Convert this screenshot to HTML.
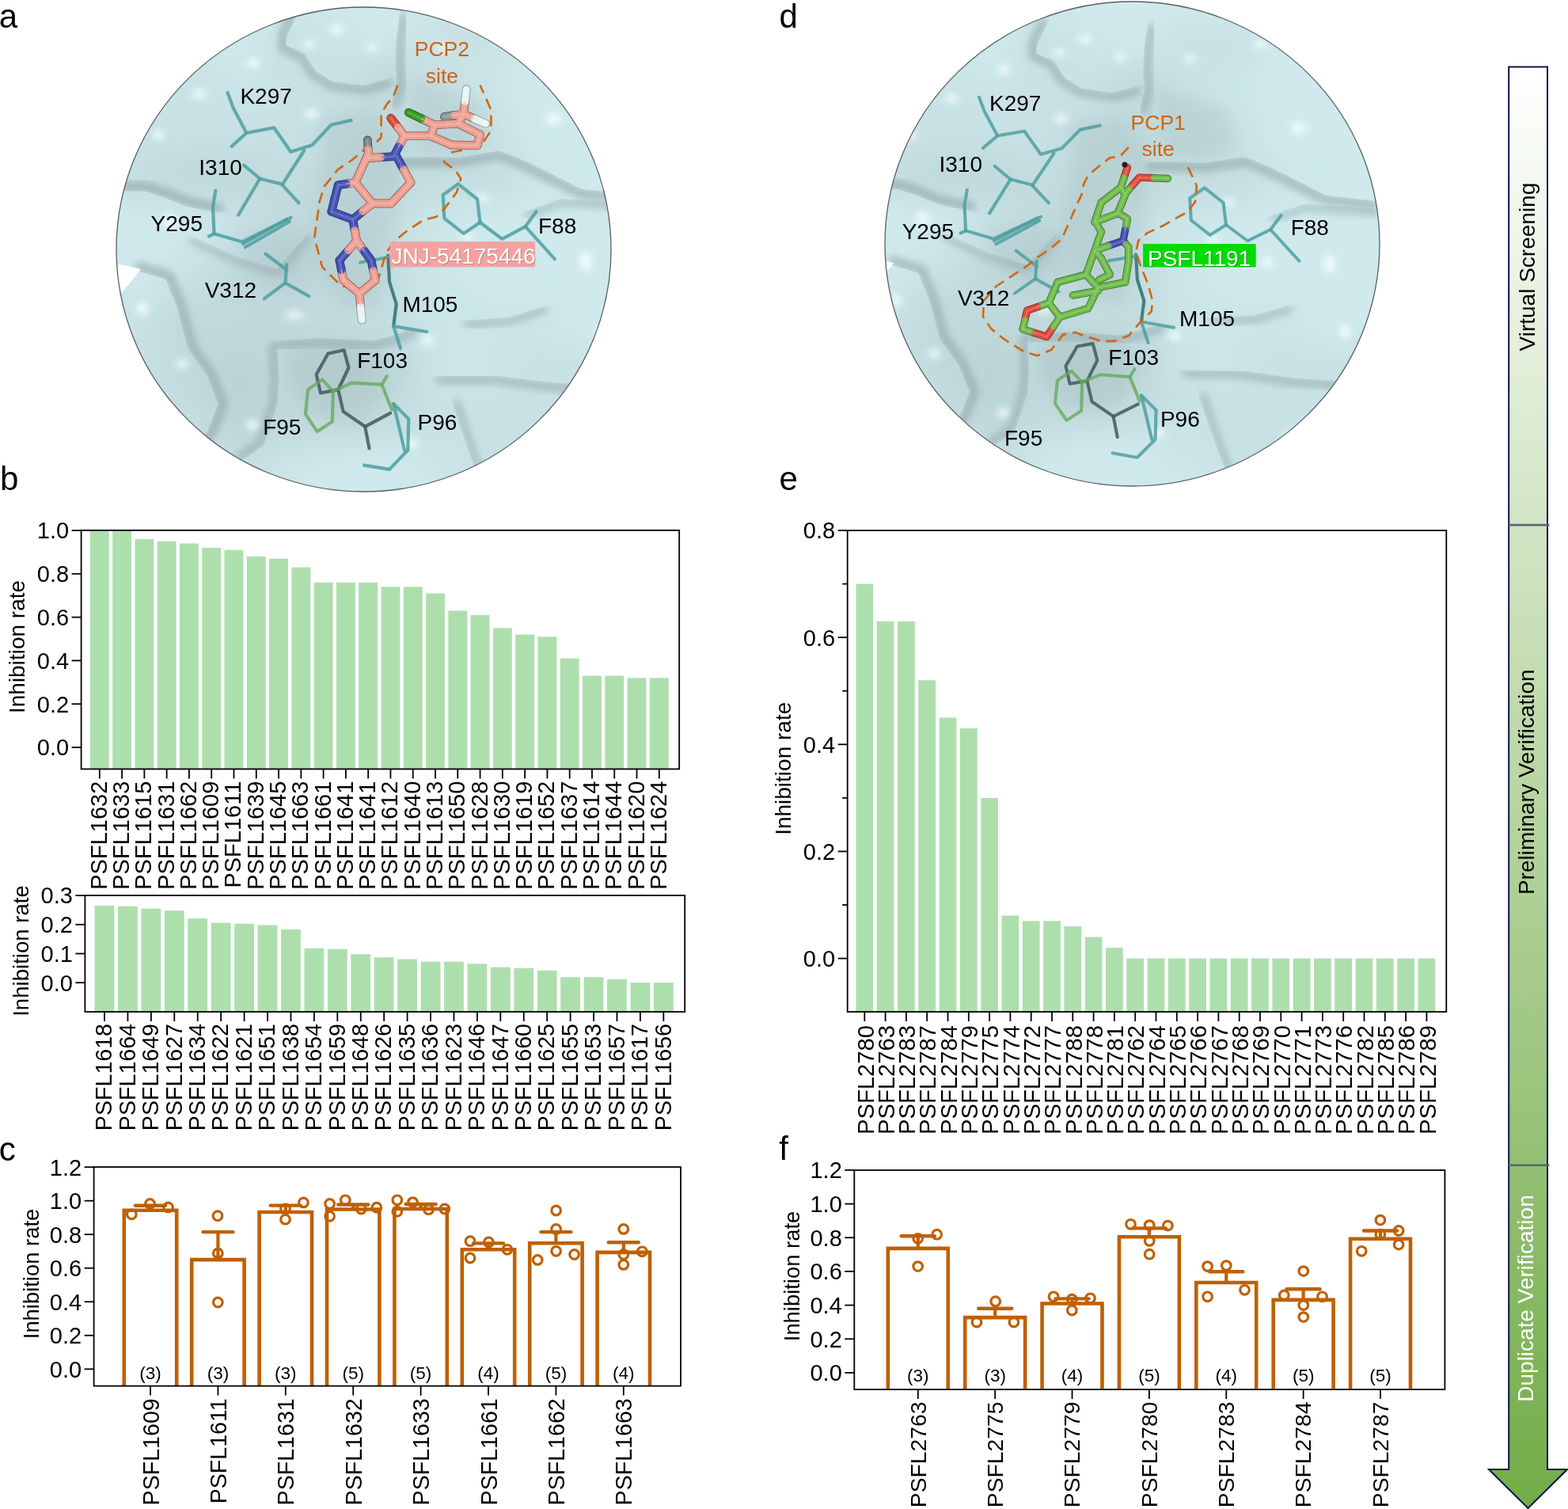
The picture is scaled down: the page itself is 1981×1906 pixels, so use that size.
<!DOCTYPE html>
<html><head><meta charset="utf-8"><title>Figure</title>
<style>html,body{margin:0;padding:0;background:#fff;width:1981px;height:1906px;overflow:hidden}svg{display:block}text{font-family:'Liberation Sans', Arial, Helvetica, sans-serif}</style>
</head><body>
<svg xmlns="http://www.w3.org/2000/svg" width="1981" height="1906" viewBox="0 0 1981 1906" font-family="'Liberation Sans', Arial, Helvetica, sans-serif">
<rect width="1981" height="1906" fill="#fff"/>
<defs>
<clipPath id="clipA"><ellipse cx="459.5" cy="315.0" rx="312.5" ry="306.0"/></clipPath>
<clipPath id="clipD"><ellipse cx="1430.5" cy="308.0" rx="312.5" ry="306.0"/></clipPath>
<filter id="bl22" x="-10%" y="-10%" width="120%" height="120%"><feGaussianBlur stdDeviation="22"/></filter>
<filter id="bl10" x="-30%" y="-30%" width="160%" height="160%"><feGaussianBlur stdDeviation="10"/></filter>
<filter id="bl5" x="-30%" y="-30%" width="160%" height="160%"><feGaussianBlur stdDeviation="5"/></filter>
<filter id="bl2" x="-30%" y="-30%" width="160%" height="160%"><feGaussianBlur stdDeviation="2"/></filter>
<g id="surf">
<rect x="60" y="-100" width="850" height="830" fill="#cfe9ec"/>
<g filter="url(#bl22)">
<rect x="84.5" y="-52.2" width="63.0" height="61.7" fill="#cfe9ec"/>
<rect x="147.0" y="-52.2" width="63.0" height="61.7" fill="#cfe9ec"/>
<rect x="209.5" y="-52.2" width="63.0" height="61.7" fill="#cfe9ec"/>
<rect x="272.0" y="-52.2" width="63.0" height="61.7" fill="#cfe9ec"/>
<rect x="334.5" y="-52.2" width="63.0" height="61.7" fill="#cfe9ec"/>
<rect x="397.0" y="-52.2" width="63.0" height="61.7" fill="#cfe9ec"/>
<rect x="459.5" y="-52.2" width="63.0" height="61.7" fill="#cfe9ec"/>
<rect x="522.0" y="-52.2" width="63.0" height="61.7" fill="#cfe9ec"/>
<rect x="584.5" y="-52.2" width="63.0" height="61.7" fill="#cfe9ec"/>
<rect x="647.0" y="-52.2" width="63.0" height="61.7" fill="#cfe9ec"/>
<rect x="709.5" y="-52.2" width="63.0" height="61.7" fill="#cfe9ec"/>
<rect x="772.0" y="-52.2" width="63.0" height="61.7" fill="#cfe9ec"/>
<rect x="84.5" y="9.0" width="63.0" height="61.7" fill="#cfe9ec"/>
<rect x="147.0" y="9.0" width="63.0" height="61.7" fill="#cfe9ec"/>
<rect x="209.5" y="9.0" width="63.0" height="61.7" fill="#cfe9ec"/>
<rect x="272.0" y="9.0" width="63.0" height="61.7" fill="#cfe9ec"/>
<rect x="334.5" y="9.0" width="63.0" height="61.7" fill="#c7e1e4"/>
<rect x="397.0" y="9.0" width="63.0" height="61.7" fill="#cbe5e8"/>
<rect x="459.5" y="9.0" width="63.0" height="61.7" fill="#cfe9ec"/>
<rect x="522.0" y="9.0" width="63.0" height="61.7" fill="#c7e1e4"/>
<rect x="584.5" y="9.0" width="63.0" height="61.7" fill="#c7e1e4"/>
<rect x="647.0" y="9.0" width="63.0" height="61.7" fill="#cfe9ec"/>
<rect x="709.5" y="9.0" width="63.0" height="61.7" fill="#cfe9ec"/>
<rect x="772.0" y="9.0" width="63.0" height="61.7" fill="#cfe9ec"/>
<rect x="84.5" y="70.2" width="63.0" height="61.7" fill="#cfe9ec"/>
<rect x="147.0" y="70.2" width="63.0" height="61.7" fill="#cbe5e8"/>
<rect x="209.5" y="70.2" width="63.0" height="61.7" fill="#c7e1e4"/>
<rect x="272.0" y="70.2" width="63.0" height="61.7" fill="#cbe5e8"/>
<rect x="334.5" y="70.2" width="63.0" height="61.7" fill="#c7e1e4"/>
<rect x="397.0" y="70.2" width="63.0" height="61.7" fill="#c7e1e4"/>
<rect x="459.5" y="70.2" width="63.0" height="61.7" fill="#bfd9dc"/>
<rect x="522.0" y="70.2" width="63.0" height="61.7" fill="#c7e1e4"/>
<rect x="584.5" y="70.2" width="63.0" height="61.7" fill="#cbe5e8"/>
<rect x="647.0" y="70.2" width="63.0" height="61.7" fill="#cfe9ec"/>
<rect x="709.5" y="70.2" width="63.0" height="61.7" fill="#cfe9ec"/>
<rect x="772.0" y="70.2" width="63.0" height="61.7" fill="#cfe9ec"/>
<rect x="84.5" y="131.4" width="63.0" height="61.7" fill="#c7e1e4"/>
<rect x="147.0" y="131.4" width="63.0" height="61.7" fill="#c7e1e4"/>
<rect x="209.5" y="131.4" width="63.0" height="61.7" fill="#c7e1e4"/>
<rect x="272.0" y="131.4" width="63.0" height="61.7" fill="#c7e1e4"/>
<rect x="334.5" y="131.4" width="63.0" height="61.7" fill="#c7e1e4"/>
<rect x="397.0" y="131.4" width="63.0" height="61.7" fill="#c3dde0"/>
<rect x="459.5" y="131.4" width="63.0" height="61.7" fill="#bfd9dc"/>
<rect x="522.0" y="131.4" width="63.0" height="61.7" fill="#c3dde0"/>
<rect x="584.5" y="131.4" width="63.0" height="61.7" fill="#c7e1e4"/>
<rect x="647.0" y="131.4" width="63.0" height="61.7" fill="#cfe9ec"/>
<rect x="709.5" y="131.4" width="63.0" height="61.7" fill="#cfe9ec"/>
<rect x="772.0" y="131.4" width="63.0" height="61.7" fill="#cfe9ec"/>
<rect x="84.5" y="192.6" width="63.0" height="61.7" fill="#c7e1e4"/>
<rect x="147.0" y="192.6" width="63.0" height="61.7" fill="#c3dde0"/>
<rect x="209.5" y="192.6" width="63.0" height="61.7" fill="#bfd9dc"/>
<rect x="272.0" y="192.6" width="63.0" height="61.7" fill="#bfd9dc"/>
<rect x="334.5" y="192.6" width="63.0" height="61.7" fill="#c3dde0"/>
<rect x="397.0" y="192.6" width="63.0" height="61.7" fill="#bfd9dc"/>
<rect x="459.5" y="192.6" width="63.0" height="61.7" fill="#bfd9dc"/>
<rect x="522.0" y="192.6" width="63.0" height="61.7" fill="#c3dde0"/>
<rect x="584.5" y="192.6" width="63.0" height="61.7" fill="#c3dde0"/>
<rect x="647.0" y="192.6" width="63.0" height="61.7" fill="#cbe5e8"/>
<rect x="709.5" y="192.6" width="63.0" height="61.7" fill="#cfe9ec"/>
<rect x="772.0" y="192.6" width="63.0" height="61.7" fill="#cfe9ec"/>
<rect x="84.5" y="253.8" width="63.0" height="61.7" fill="#cfe9ec"/>
<rect x="147.0" y="253.8" width="63.0" height="61.7" fill="#cfe9ec"/>
<rect x="209.5" y="253.8" width="63.0" height="61.7" fill="#cfe9ec"/>
<rect x="272.0" y="253.8" width="63.0" height="61.7" fill="#c7e1e4"/>
<rect x="334.5" y="253.8" width="63.0" height="61.7" fill="#bfd9dc"/>
<rect x="397.0" y="253.8" width="63.0" height="61.7" fill="#bfd9dc"/>
<rect x="459.5" y="253.8" width="63.0" height="61.7" fill="#c7e1e4"/>
<rect x="522.0" y="253.8" width="63.0" height="61.7" fill="#cbe5e8"/>
<rect x="584.5" y="253.8" width="63.0" height="61.7" fill="#cfe9ec"/>
<rect x="647.0" y="253.8" width="63.0" height="61.7" fill="#cfe9ec"/>
<rect x="709.5" y="253.8" width="63.0" height="61.7" fill="#cfe9ec"/>
<rect x="772.0" y="253.8" width="63.0" height="61.7" fill="#cfe9ec"/>
<rect x="84.5" y="315.0" width="63.0" height="61.7" fill="#cfe9ec"/>
<rect x="147.0" y="315.0" width="63.0" height="61.7" fill="#cfe9ec"/>
<rect x="209.5" y="315.0" width="63.0" height="61.7" fill="#c7e1e4"/>
<rect x="272.0" y="315.0" width="63.0" height="61.7" fill="#bfd9dc"/>
<rect x="334.5" y="315.0" width="63.0" height="61.7" fill="#bad4d7"/>
<rect x="397.0" y="315.0" width="63.0" height="61.7" fill="#bfd9dc"/>
<rect x="459.5" y="315.0" width="63.0" height="61.7" fill="#c3dde0"/>
<rect x="522.0" y="315.0" width="63.0" height="61.7" fill="#cbe5e8"/>
<rect x="584.5" y="315.0" width="63.0" height="61.7" fill="#cfe9ec"/>
<rect x="647.0" y="315.0" width="63.0" height="61.7" fill="#cfe9ec"/>
<rect x="709.5" y="315.0" width="63.0" height="61.7" fill="#cfe9ec"/>
<rect x="772.0" y="315.0" width="63.0" height="61.7" fill="#cfe9ec"/>
<rect x="84.5" y="376.2" width="63.0" height="61.7" fill="#c7e1e4"/>
<rect x="147.0" y="376.2" width="63.0" height="61.7" fill="#c7e1e4"/>
<rect x="209.5" y="376.2" width="63.0" height="61.7" fill="#bfd9dc"/>
<rect x="272.0" y="376.2" width="63.0" height="61.7" fill="#bfd9dc"/>
<rect x="334.5" y="376.2" width="63.0" height="61.7" fill="#bfd9dc"/>
<rect x="397.0" y="376.2" width="63.0" height="61.7" fill="#c3dde0"/>
<rect x="459.5" y="376.2" width="63.0" height="61.7" fill="#c3dde0"/>
<rect x="522.0" y="376.2" width="63.0" height="61.7" fill="#cbe5e8"/>
<rect x="584.5" y="376.2" width="63.0" height="61.7" fill="#cbe5e8"/>
<rect x="647.0" y="376.2" width="63.0" height="61.7" fill="#cbe5e8"/>
<rect x="709.5" y="376.2" width="63.0" height="61.7" fill="#cfe9ec"/>
<rect x="772.0" y="376.2" width="63.0" height="61.7" fill="#cfe9ec"/>
<rect x="84.5" y="437.4" width="63.0" height="61.7" fill="#c7e1e4"/>
<rect x="147.0" y="437.4" width="63.0" height="61.7" fill="#c7e1e4"/>
<rect x="209.5" y="437.4" width="63.0" height="61.7" fill="#bfd9dc"/>
<rect x="272.0" y="437.4" width="63.0" height="61.7" fill="#bad4d7"/>
<rect x="334.5" y="437.4" width="63.0" height="61.7" fill="#bfd9dc"/>
<rect x="397.0" y="437.4" width="63.0" height="61.7" fill="#b6cfd2"/>
<rect x="459.5" y="437.4" width="63.0" height="61.7" fill="#bad4d7"/>
<rect x="522.0" y="437.4" width="63.0" height="61.7" fill="#cbe5e8"/>
<rect x="584.5" y="437.4" width="63.0" height="61.7" fill="#cbe5e8"/>
<rect x="647.0" y="437.4" width="63.0" height="61.7" fill="#c7e1e4"/>
<rect x="709.5" y="437.4" width="63.0" height="61.7" fill="#c7e1e4"/>
<rect x="772.0" y="437.4" width="63.0" height="61.7" fill="#c7e1e4"/>
<rect x="84.5" y="498.6" width="63.0" height="61.7" fill="#c7e1e4"/>
<rect x="147.0" y="498.6" width="63.0" height="61.7" fill="#c7e1e4"/>
<rect x="209.5" y="498.6" width="63.0" height="61.7" fill="#c3dde0"/>
<rect x="272.0" y="498.6" width="63.0" height="61.7" fill="#bad4d7"/>
<rect x="334.5" y="498.6" width="63.0" height="61.7" fill="#bfd9dc"/>
<rect x="397.0" y="498.6" width="63.0" height="61.7" fill="#bfd9dc"/>
<rect x="459.5" y="498.6" width="63.0" height="61.7" fill="#c3dde0"/>
<rect x="522.0" y="498.6" width="63.0" height="61.7" fill="#c7e1e4"/>
<rect x="584.5" y="498.6" width="63.0" height="61.7" fill="#c7e1e4"/>
<rect x="647.0" y="498.6" width="63.0" height="61.7" fill="#c7e1e4"/>
<rect x="709.5" y="498.6" width="63.0" height="61.7" fill="#c7e1e4"/>
<rect x="772.0" y="498.6" width="63.0" height="61.7" fill="#c7e1e4"/>
<rect x="84.5" y="559.8" width="63.0" height="61.7" fill="#cfe9ec"/>
<rect x="147.0" y="559.8" width="63.0" height="61.7" fill="#cfe9ec"/>
<rect x="209.5" y="559.8" width="63.0" height="61.7" fill="#cbe5e8"/>
<rect x="272.0" y="559.8" width="63.0" height="61.7" fill="#c3dde0"/>
<rect x="334.5" y="559.8" width="63.0" height="61.7" fill="#cbe5e8"/>
<rect x="397.0" y="559.8" width="63.0" height="61.7" fill="#cfe9ec"/>
<rect x="459.5" y="559.8" width="63.0" height="61.7" fill="#cfe9ec"/>
<rect x="522.0" y="559.8" width="63.0" height="61.7" fill="#cbe5e8"/>
<rect x="584.5" y="559.8" width="63.0" height="61.7" fill="#c7e1e4"/>
<rect x="647.0" y="559.8" width="63.0" height="61.7" fill="#c7e1e4"/>
<rect x="709.5" y="559.8" width="63.0" height="61.7" fill="#c7e1e4"/>
<rect x="772.0" y="559.8" width="63.0" height="61.7" fill="#c7e1e4"/>
<rect x="84.5" y="621.0" width="63.0" height="61.7" fill="#cfe9ec"/>
<rect x="147.0" y="621.0" width="63.0" height="61.7" fill="#cfe9ec"/>
<rect x="209.5" y="621.0" width="63.0" height="61.7" fill="#cfe9ec"/>
<rect x="272.0" y="621.0" width="63.0" height="61.7" fill="#cfe9ec"/>
<rect x="334.5" y="621.0" width="63.0" height="61.7" fill="#cfe9ec"/>
<rect x="397.0" y="621.0" width="63.0" height="61.7" fill="#cfe9ec"/>
<rect x="459.5" y="621.0" width="63.0" height="61.7" fill="#cfe9ec"/>
<rect x="522.0" y="621.0" width="63.0" height="61.7" fill="#cfe9ec"/>
<rect x="584.5" y="621.0" width="63.0" height="61.7" fill="#cfe9ec"/>
<rect x="647.0" y="621.0" width="63.0" height="61.7" fill="#cfe9ec"/>
<rect x="709.5" y="621.0" width="63.0" height="61.7" fill="#cfe9ec"/>
<rect x="772.0" y="621.0" width="63.0" height="61.7" fill="#cfe9ec"/>
</g>
<g filter="url(#bl10)">
<polygon points="405.0,150.0 470.0,140.0 505.0,180.0 505.0,260.0 492.0,330.0 478.0,385.0 440.0,392.0 408.0,352.0 396.0,280.0 410.0,200.0" fill="#a2b8bc" fill-opacity="0.27999999999999997" />
<polygon points="515.0,100.0 560.0,112.0 610.0,125.0 618.0,180.0 585.0,196.0 530.0,192.0" fill="#a2b8bc" fill-opacity="0.27999999999999997" />
<polygon points="360.0,440.0 420.0,428.0 478.0,445.0 488.0,500.0 460.0,535.0 404.0,528.0 366.0,498.0" fill="#a2b8bc" fill-opacity="0.27999999999999997" />
<polygon points="300.0,290.0 350.0,285.0 395.0,298.0 398.0,336.0 352.0,365.0 305.0,345.0" fill="#a2b8bc" fill-opacity="0.24" />
</g>
<g filter="url(#bl5)">
<ellipse cx="252" cy="119" rx="9" ry="6" fill="#f4ffff" fill-opacity="0.85"/>
<ellipse cx="320" cy="80" rx="9" ry="6" fill="#f4ffff" fill-opacity="0.85"/>
<ellipse cx="425" cy="37" rx="9" ry="6" fill="#f4ffff" fill-opacity="0.85"/>
<ellipse cx="394" cy="144" rx="9" ry="6" fill="#f4ffff" fill-opacity="0.85"/>
<ellipse cx="391" cy="56" rx="8" ry="5" fill="#f4ffff" fill-opacity="0.85"/>
<ellipse cx="700" cy="150" rx="10" ry="7" fill="#f4ffff" fill-opacity="0.85"/>
<ellipse cx="740" cy="330" rx="8" ry="12" fill="#f4ffff" fill-opacity="0.85"/>
<ellipse cx="690" cy="560" rx="10" ry="7" fill="#f4ffff" fill-opacity="0.85"/>
<ellipse cx="320" cy="537" rx="10" ry="6" fill="#f4ffff" fill-opacity="0.85"/>
<ellipse cx="372" cy="398" rx="12" ry="5" fill="#f4ffff" fill-opacity="0.85"/>
<ellipse cx="590" cy="300" rx="8" ry="5" fill="#f4ffff" fill-opacity="0.85"/>
<ellipse cx="215" cy="280" rx="9" ry="9" fill="#f4ffff" fill-opacity="0.85"/>
<ellipse cx="540" cy="430" rx="9" ry="6" fill="#f4ffff" fill-opacity="0.85"/>
<ellipse cx="650" cy="40" rx="9" ry="5" fill="#f4ffff" fill-opacity="0.85"/>
<ellipse cx="760" cy="420" rx="7" ry="10" fill="#f4ffff" fill-opacity="0.85"/>
<ellipse cx="610" cy="250" rx="8" ry="5" fill="#f4ffff" fill-opacity="0.85"/>
<ellipse cx="660" cy="330" rx="8" ry="6" fill="#f4ffff" fill-opacity="0.85"/>
<ellipse cx="180" cy="390" rx="8" ry="8" fill="#f4ffff" fill-opacity="0.85"/>
<ellipse cx="230" cy="460" rx="8" ry="6" fill="#f4ffff" fill-opacity="0.85"/>
<ellipse cx="520" cy="560" rx="9" ry="6" fill="#f4ffff" fill-opacity="0.85"/>
<ellipse cx="560" cy="60" rx="8" ry="5" fill="#f4ffff" fill-opacity="0.85"/>
<ellipse cx="470" cy="60" rx="8" ry="5" fill="#f4ffff" fill-opacity="0.85"/>
<ellipse cx="200" cy="170" rx="8" ry="6" fill="#f4ffff" fill-opacity="0.85"/>
</g>
<clipPath id="ec0"><polygon points="382.5,3.8 375.5,18.3 362.6,45.2 361.0,57.3 384.7,67.4 398.3,89.5 420.2,102.9 460.0,108.0 489.8,99.4 505.2,95.0 514.5,127.3 499.1,131.7 461.6,141.6 410.5,135.1 374.6,113.3 362.7,92.9 337.0,80.7 331.0,33.7 345.3,3.7 352.2,-10.7"/></clipPath><g clip-path="url(#ec0)"><polyline points="370.5,15.9 357.3,43.3 357.1,61.2 381.1,71.6 394.4,93.4 418.6,108.2 460.2,113.5 491.4,104.8" fill="none" stroke="#8c9fa3" stroke-width="11" stroke-opacity="0.6" stroke-linejoin="round" stroke-linecap="round" filter="url(#bl5)"/></g>
<clipPath id="ec1"><polygon points="124.0,241.6 140.0,241.6 183.9,241.6 207.8,249.6 234.8,260.6 258.9,265.6 275.9,268.6 291.7,271.4 298.0,235.3 282.3,232.5 265.9,229.7 245.8,225.7 220.6,215.3 188.2,205.2 140.0,205.0 124.0,205.0"/></clipPath><g clip-path="url(#ec1)"><polyline points="140.0,235.6 184.6,235.6 209.9,243.9 236.6,254.8 260.0,259.7 276.9,262.7" fill="none" stroke="#8c9fa3" stroke-width="12" stroke-opacity="0.65" stroke-linejoin="round" stroke-linecap="round" filter="url(#bl5)"/></g>
<clipPath id="ec2"><polygon points="506.4,4.0 504.4,19.9 500.4,52.0 499.4,80.0 501.4,103.9 494.4,129.8 490.3,145.3 522.7,154.0 526.9,138.6 534.8,107.3 533.0,79.4 533.9,54.7 537.7,24.1 539.7,8.2"/></clipPath><g clip-path="url(#ec2)"><polyline points="509.9,20.6 505.9,52.4 504.9,79.9 506.9,104.5 499.8,131.3" fill="none" stroke="#8c9fa3" stroke-width="11" stroke-opacity="0.55" stroke-linejoin="round" stroke-linecap="round" filter="url(#bl5)"/></g>
<clipPath id="ec3"><polygon points="493.0,199.1 509.0,198.9 545.0,198.4 578.7,198.9 630.8,190.2 665.7,204.2 700.5,221.5 735.0,238.8 800.1,245.7 816.0,247.4 812.1,283.8 796.2,282.1 726.4,274.4 684.1,254.2 650.7,237.5 628.6,226.7 582.2,235.3 545.0,235.0 509.5,235.5 493.5,235.7"/></clipPath><g clip-path="url(#ec3)"><polyline points="509.1,204.9 545.0,204.4 579.3,204.9 630.5,196.2 663.3,209.6 697.8,226.8 733.6,244.6 799.4,251.7" fill="none" stroke="#8c9fa3" stroke-width="12" stroke-opacity="0.6" stroke-linejoin="round" stroke-linecap="round" filter="url(#bl5)"/></g>
<clipPath id="ec4"><polygon points="650.2,271.9 665.3,266.5 708.9,250.9 800.0,256.1 816.0,257.0 814.3,287.6 798.3,286.7 711.2,281.4 675.6,295.3 660.6,300.7"/></clipPath><g clip-path="url(#ec4)"><polyline points="667.0,271.3 709.2,256.0 799.7,261.2" fill="none" stroke="#8c9fa3" stroke-width="10" stroke-opacity="0.45" stroke-linejoin="round" stroke-linecap="round" filter="url(#bl5)"/></g>
<clipPath id="ec5"><polygon points="159.5,338.0 174.8,342.6 209.6,352.9 223.4,387.7 237.5,440.2 262.0,475.3 275.9,510.0 262.0,544.7 253.3,553.3 241.9,564.5 267.6,590.5 279.0,579.3 294.4,561.7 312.5,510.0 294.0,457.7 271.0,425.5 258.3,376.5 234.5,326.1 185.3,307.5 170.0,302.9"/></clipPath><g clip-path="url(#ec5)"><polyline points="176.6,336.8 213.7,348.5 229.1,385.9 242.9,437.8 267.2,472.4 281.9,510.0 267.3,547.5 257.5,557.5" fill="none" stroke="#8c9fa3" stroke-width="12" stroke-opacity="0.6" stroke-linejoin="round" stroke-linecap="round" filter="url(#bl5)"/></g>
<clipPath id="ec6"><polygon points="334.0,431.7 350.0,430.6 402.5,427.1 470.0,430.6 502.3,421.9 519.8,414.9 534.6,409.0 547.1,440.2 532.3,446.1 512.4,454.0 471.7,464.2 402.5,460.7 352.2,464.1 336.2,465.2"/></clipPath><g clip-path="url(#ec6)"><polyline points="350.3,436.1 402.5,432.6 470.3,436.1 504.0,427.2 521.8,420.1" fill="none" stroke="#8c9fa3" stroke-width="11" stroke-opacity="0.55" stroke-linejoin="round" stroke-linecap="round" filter="url(#bl5)"/></g>
<clipPath id="ec7"><polygon points="349.8,424.0 350.6,440.0 352.6,480.0 350.6,510.1 333.0,562.8 306.5,580.5 293.2,589.4 274.6,561.4 287.9,552.5 304.5,545.0 317.9,502.4 319.0,480.0 317.0,441.6 316.2,425.7"/></clipPath><g clip-path="url(#ec7)"><polyline points="345.1,440.2 347.1,480.0 345.2,508.9 328.3,559.9 303.5,575.9" fill="none" stroke="#8c9fa3" stroke-width="11" stroke-opacity="0.55" stroke-linejoin="round" stroke-linecap="round" filter="url(#bl5)"/></g>
<clipPath id="ec8"><polygon points="230.7,292.8 245.2,299.5 300.2,324.4 349.8,339.4 384.5,299.6 395.1,287.6 418.1,307.7 407.6,319.8 358.5,368.8 289.3,353.0 232.6,327.3 218.0,320.7"/></clipPath><g clip-path="url(#ec8)"><polyline points="243.1,304.1 298.4,329.2 351.3,344.3 388.4,303.0" fill="none" stroke="#8c9fa3" stroke-width="10" stroke-opacity="0.45" stroke-linejoin="round" stroke-linecap="round" filter="url(#bl5)"/></g>
<clipPath id="ec9"><polygon points="574.0,405.5 590.0,404.4 642.4,400.9 686.0,386.9 701.3,382.0 710.6,411.2 695.4,416.1 647.9,431.0 592.0,434.9 576.0,436.0"/></clipPath><g clip-path="url(#ec9)"><polyline points="590.3,409.5 643.3,405.9 687.6,391.8" fill="none" stroke="#8c9fa3" stroke-width="10" stroke-opacity="0.5" stroke-linejoin="round" stroke-linecap="round" filter="url(#bl5)"/></g>
<clipPath id="ec10"><polygon points="539.0,474.4 555.0,474.4 625.0,474.4 695.0,483.1 800.0,488.4 816.0,489.2 814.3,522.8 798.3,522.0 692.4,516.6 623.0,507.9 555.0,508.0 539.0,508.0"/></clipPath><g clip-path="url(#ec10)"><polyline points="555.0,479.9 624.7,479.9 694.6,488.6 799.8,493.9" fill="none" stroke="#8c9fa3" stroke-width="11" stroke-opacity="0.55" stroke-linejoin="round" stroke-linecap="round" filter="url(#bl5)"/></g>
<clipPath id="ec11"><polygon points="566.9,495.0 571.9,510.2 589.4,562.7 606.9,610.2 612.5,625.2 641.2,614.6 635.7,599.6 618.3,552.6 601.0,500.5 595.9,485.3"/></clipPath><g clip-path="url(#ec11)"><polyline points="576.8,508.6 594.2,561.0 611.7,608.4" fill="none" stroke="#8c9fa3" stroke-width="10" stroke-opacity="0.5" stroke-linejoin="round" stroke-linecap="round" filter="url(#bl5)"/></g>
</g>
<g id="res">
<polyline points="287.6,117.1 294.4,135.7 311.4,168.0 346.1,161.2 367.4,191.7 394.5,183.3 418.3,157.8 443.7,151.9" fill="none" stroke="#4e9fa1" stroke-width="4.2" stroke-opacity="0.85" stroke-linecap="round" stroke-linejoin="round"/>
<polyline points="311.4,168.0 292.7,184.9" fill="none" stroke="#4e9fa1" stroke-width="4.2" stroke-opacity="0.85" stroke-linecap="round" stroke-linejoin="round"/>
<polyline points="384.3,190.0 357.2,232.4" fill="none" stroke="#4e9fa1" stroke-width="4.2" stroke-opacity="0.85" stroke-linecap="round" stroke-linejoin="round"/>
<polyline points="308.0,208.7 328.3,225.7 355.5,232.4 377.5,256.2" fill="none" stroke="#4e9fa1" stroke-width="4.2" stroke-opacity="0.85" stroke-linecap="round" stroke-linejoin="round"/>
<polyline points="328.3,225.7 301.2,271.5" fill="none" stroke="#4e9fa1" stroke-width="4.2" stroke-opacity="0.85" stroke-linecap="round" stroke-linejoin="round"/>
<polyline points="272.3,240.9 268.9,261.3 270.6,295.2 263.9,298.6" fill="none" stroke="#4e9fa1" stroke-width="4.2" stroke-opacity="0.85" stroke-linecap="round" stroke-linejoin="round"/>
<polyline points="270.6,295.2 306.3,305.4 367.4,274.9" fill="none" stroke="#4e9fa1" stroke-width="4.2" stroke-opacity="0.85" stroke-linecap="round" stroke-linejoin="round"/>
<polyline points="309.7,312.2 365.7,280.0" fill="none" stroke="#4e9fa1" stroke-width="4.2" stroke-opacity="0.85" stroke-linecap="round" stroke-linejoin="round"/>
<polyline points="307.0,308.0 362.0,277.0" fill="none" stroke="#4e9fa1" stroke-width="4.2" stroke-opacity="0.85" stroke-linecap="round" stroke-linejoin="round"/>
<polyline points="335.4,320.6 362.1,340.7" fill="none" stroke="#4e9fa1" stroke-width="4.2" stroke-opacity="0.85" stroke-linecap="round" stroke-linejoin="round"/>
<polyline points="362.1,334.0 360.4,357.4" fill="none" stroke="#4e9fa1" stroke-width="4.2" stroke-opacity="0.85" stroke-linecap="round" stroke-linejoin="round"/>
<polyline points="333.7,377.4 360.4,357.4 390.5,374.1" fill="none" stroke="#4e9fa1" stroke-width="4.2" stroke-opacity="0.85" stroke-linecap="round" stroke-linejoin="round"/>
<polyline points="578.8,232.4 603.0,251.5 606.5,281.0 585.7,294.9 561.4,275.8 559.7,246.3 578.8,232.4" fill="none" stroke="#4e9fa1" stroke-width="4.2" stroke-opacity="0.85" stroke-linecap="round" stroke-linejoin="round"/>
<polyline points="606.5,281.0 634.3,301.8 663.8,286.2 677.6,267.1" fill="none" stroke="#4e9fa1" stroke-width="4.2" stroke-opacity="0.85" stroke-linecap="round" stroke-linejoin="round"/>
<polyline points="663.8,286.2 701.0,327.3" fill="none" stroke="#4e9fa1" stroke-width="4.2" stroke-opacity="0.85" stroke-linecap="round" stroke-linejoin="round"/>
<polyline points="490.2,322.7 492.0,356.0 500.7,384.0 497.2,412.0" fill="none" stroke="#2f6f72" stroke-width="4.2" stroke-opacity="0.85" stroke-linecap="round" stroke-linejoin="round"/>
<polyline points="497.2,412.0 539.2,419.0" fill="none" stroke="#4e9fa1" stroke-width="4.2" stroke-opacity="0.85" stroke-linecap="round" stroke-linejoin="round"/>
<polyline points="497.2,412.0 506.0,440.0" fill="none" stroke="#4e9fa1" stroke-width="4.2" stroke-opacity="0.85" stroke-linecap="round" stroke-linejoin="round"/>
<polyline points="455.2,331.5 490.2,325.0" fill="none" stroke="#4e9fa1" stroke-width="4.2" stroke-opacity="0.85" stroke-linecap="round" stroke-linejoin="round"/>
<polyline points="414.5,446.5 434.7,442.3 440.5,464.5 427.3,492.1 405.0,496.4 399.7,473.0 414.5,446.5" fill="none" stroke="#3e5a5c" stroke-width="4.2" stroke-opacity="0.85" stroke-linecap="round" stroke-linejoin="round"/>
<polyline points="427.3,492.1 433.6,519.7 461.2,538.8 493.0,521.8" fill="none" stroke="#3e5a5c" stroke-width="4.2" stroke-opacity="0.85" stroke-linecap="round" stroke-linejoin="round"/>
<polyline points="461.2,538.8 466.5,566.3" fill="none" stroke="#3e5a5c" stroke-width="4.2" stroke-opacity="0.85" stroke-linecap="round" stroke-linejoin="round"/>
<polyline points="407.1,479.4 420.9,494.2 419.8,532.4 400.8,545.1 385.9,522.9 389.1,492.1 407.1,479.4" fill="none" stroke="#62a855" stroke-width="4.2" stroke-opacity="0.75" stroke-linecap="round" stroke-linejoin="round"/>
<polyline points="420.9,494.2 444.2,483.6 482.4,485.7 488.8,475.1" fill="none" stroke="#62a855" stroke-width="4.2" stroke-opacity="0.75" stroke-linecap="round" stroke-linejoin="round"/>
<polyline points="482.4,485.7 495.1,517.6" fill="none" stroke="#62a855" stroke-width="4.2" stroke-opacity="0.75" stroke-linecap="round" stroke-linejoin="round"/>
<polyline points="497.3,510.1 516.3,529.2 515.3,568.5 492.0,592.9 460.1,587.6" fill="none" stroke="#4e9fa1" stroke-width="4.2" stroke-opacity="0.85" stroke-linecap="round" stroke-linejoin="round"/>
<polyline points="497.3,510.1 511.0,568.5" fill="none" stroke="#4e9fa1" stroke-width="4.2" stroke-opacity="0.85" stroke-linecap="round" stroke-linejoin="round"/>
</g>
</defs>
<g clip-path="url(#clipA)">
<use href="#surf"/>
<polygon points="146.0,333.0 178.0,340.0 153.0,371.0 140.0,371.0 140.0,333.0" fill="#ffffff" fill-opacity="1.0" />
<use href="#res"/>
<path d="M502.4,107.5 L497.2,121.4 L488.6,131.8 L481.6,144.0 L481.6,173.5 L474.7,180.4 L462.5,187.3 L443.5,203.0 L427.2,213.8 L410.0,235.0 L403.9,253.8 L397.2,300.6 L407.2,337.3 L430.6,360.7 L457.3,367.4 L477.3,354.0 L487.4,320.6 L497.2,305.3 L514.6,291.4 L535.4,277.5 L551.0,274.0 L561.4,263.7 L577.0,242.8 L582.2,225.5 L575.3,215.1 L561.4,204.7 L559.7,196.0" fill="none" stroke="#d2660e" stroke-width="2.6" stroke-dasharray="14,8" stroke-linejoin="round"/>
<path d="M570.1,192.5 L596.1,187.3 L610.0,180.4 L620.4,164.8 L620.4,138.8 L606.5,107.5" fill="none" stroke="#d2660e" stroke-width="2.6" stroke-dasharray="14,8" stroke-linejoin="round"/>
<g>
<g><line x1="561.4" y1="147.4" x2="573.5" y2="145.7" stroke="#565e5e" stroke-width="10.8" stroke-linecap="round"/><line x1="573.5" y1="145.7" x2="585.7" y2="144.0" stroke="#93625a" stroke-width="10.8" stroke-linecap="round"/><line x1="464.3" y1="176.9" x2="465.1" y2="188.2" stroke="#4d5252" stroke-width="10.8" stroke-linecap="round"/><line x1="465.1" y1="188.2" x2="466.0" y2="199.5" stroke="#93625a" stroke-width="10.8" stroke-linecap="round"/><line x1="493.8" y1="149.2" x2="502.5" y2="160.4" stroke="#8a2d25" stroke-width="10.8" stroke-linecap="round"/><line x1="502.5" y1="160.4" x2="511.1" y2="171.7" stroke="#93625a" stroke-width="10.8" stroke-linecap="round"/><line x1="511.1" y1="171.7" x2="504.1" y2="184.7" stroke="#93625a" stroke-width="10.8" stroke-linecap="round"/><line x1="504.1" y1="184.7" x2="497.2" y2="197.7" stroke="#2a316f" stroke-width="10.8" stroke-linecap="round"/><line x1="511.1" y1="171.7" x2="527.6" y2="171.7" stroke="#93625a" stroke-width="10.8" stroke-linecap="round"/><line x1="527.6" y1="171.7" x2="544.1" y2="171.7" stroke="#93625a" stroke-width="10.8" stroke-linecap="round"/><line x1="544.1" y1="171.7" x2="546.7" y2="164.8" stroke="#93625a" stroke-width="10.8" stroke-linecap="round"/><line x1="546.7" y1="164.8" x2="549.3" y2="157.8" stroke="#93625a" stroke-width="10.8" stroke-linecap="round"/><line x1="549.3" y1="157.8" x2="564.0" y2="156.9" stroke="#93625a" stroke-width="10.8" stroke-linecap="round"/><line x1="564.0" y1="156.9" x2="578.8" y2="156.1" stroke="#93625a" stroke-width="10.8" stroke-linecap="round"/><line x1="578.8" y1="156.1" x2="592.6" y2="163.1" stroke="#93625a" stroke-width="10.8" stroke-linecap="round"/><line x1="592.6" y1="163.1" x2="606.5" y2="170.0" stroke="#93625a" stroke-width="10.8" stroke-linecap="round"/><line x1="606.5" y1="170.0" x2="604.8" y2="176.9" stroke="#93625a" stroke-width="10.8" stroke-linecap="round"/><line x1="604.8" y1="176.9" x2="603.0" y2="183.9" stroke="#93625a" stroke-width="10.8" stroke-linecap="round"/><line x1="603.0" y1="183.9" x2="586.5" y2="183.4" stroke="#93625a" stroke-width="10.8" stroke-linecap="round"/><line x1="586.5" y1="183.4" x2="570.1" y2="183.0" stroke="#93625a" stroke-width="10.8" stroke-linecap="round"/><line x1="570.1" y1="183.0" x2="557.1" y2="177.3" stroke="#93625a" stroke-width="10.8" stroke-linecap="round"/><line x1="557.1" y1="177.3" x2="544.1" y2="171.7" stroke="#93625a" stroke-width="10.8" stroke-linecap="round"/><line x1="549.3" y1="157.8" x2="532.8" y2="150.0" stroke="#93625a" stroke-width="10.8" stroke-linecap="round"/><line x1="532.8" y1="150.0" x2="516.3" y2="142.2" stroke="#235f13" stroke-width="10.8" stroke-linecap="round"/><line x1="578.8" y1="156.1" x2="582.2" y2="150.1" stroke="#93625a" stroke-width="10.8" stroke-linecap="round"/><line x1="582.2" y1="150.1" x2="585.7" y2="144.0" stroke="#93625a" stroke-width="10.8" stroke-linecap="round"/><line x1="585.7" y1="144.0" x2="587.5" y2="128.3" stroke="#93625a" stroke-width="10.8" stroke-linecap="round"/><line x1="587.5" y1="128.3" x2="589.2" y2="112.7" stroke="#8e9897" stroke-width="10.8" stroke-linecap="round"/><line x1="585.7" y1="144.0" x2="599.6" y2="150.1" stroke="#93625a" stroke-width="10.8" stroke-linecap="round"/><line x1="599.6" y1="150.1" x2="613.5" y2="156.1" stroke="#8e9897" stroke-width="10.8" stroke-linecap="round"/><line x1="497.2" y1="197.7" x2="481.6" y2="198.6" stroke="#2a316f" stroke-width="10.8" stroke-linecap="round"/><line x1="481.6" y1="198.6" x2="466.0" y2="199.5" stroke="#93625a" stroke-width="10.8" stroke-linecap="round"/><line x1="500.7" y1="197.0" x2="509.9" y2="213.8" stroke="#2a316f" stroke-width="10.8" stroke-linecap="round"/><line x1="509.9" y1="213.8" x2="519.0" y2="230.5" stroke="#93625a" stroke-width="10.8" stroke-linecap="round"/><line x1="519.0" y1="230.5" x2="506.5" y2="243.8" stroke="#93625a" stroke-width="10.8" stroke-linecap="round"/><line x1="506.5" y1="243.8" x2="494.0" y2="257.0" stroke="#93625a" stroke-width="10.8" stroke-linecap="round"/><line x1="494.0" y1="257.0" x2="482.4" y2="257.0" stroke="#93625a" stroke-width="10.8" stroke-linecap="round"/><line x1="482.4" y1="257.0" x2="470.7" y2="257.0" stroke="#93625a" stroke-width="10.8" stroke-linecap="round"/><line x1="470.7" y1="257.0" x2="459.9" y2="243.8" stroke="#93625a" stroke-width="10.8" stroke-linecap="round"/><line x1="459.9" y1="243.8" x2="449.0" y2="230.5" stroke="#93625a" stroke-width="10.8" stroke-linecap="round"/><line x1="449.0" y1="230.5" x2="456.5" y2="213.8" stroke="#93625a" stroke-width="10.8" stroke-linecap="round"/><line x1="456.5" y1="213.8" x2="464.0" y2="197.0" stroke="#93625a" stroke-width="10.8" stroke-linecap="round"/><line x1="449.0" y1="230.5" x2="438.1" y2="232.2" stroke="#93625a" stroke-width="10.8" stroke-linecap="round"/><line x1="438.1" y1="232.2" x2="427.2" y2="233.8" stroke="#2a316f" stroke-width="10.8" stroke-linecap="round"/><line x1="427.2" y1="233.8" x2="423.0" y2="250.5" stroke="#2a316f" stroke-width="10.8" stroke-linecap="round"/><line x1="423.0" y1="250.5" x2="418.9" y2="267.2" stroke="#2a316f" stroke-width="10.8" stroke-linecap="round"/><line x1="418.9" y1="267.2" x2="432.2" y2="272.2" stroke="#2a316f" stroke-width="10.8" stroke-linecap="round"/><line x1="432.2" y1="272.2" x2="445.6" y2="277.2" stroke="#2a316f" stroke-width="10.8" stroke-linecap="round"/><line x1="445.6" y1="277.2" x2="458.1" y2="267.1" stroke="#2a316f" stroke-width="10.8" stroke-linecap="round"/><line x1="458.1" y1="267.1" x2="470.7" y2="257.0" stroke="#93625a" stroke-width="10.8" stroke-linecap="round"/><line x1="445.6" y1="277.2" x2="448.1" y2="290.6" stroke="#2a316f" stroke-width="10.8" stroke-linecap="round"/><line x1="448.1" y1="290.6" x2="450.6" y2="304.0" stroke="#93625a" stroke-width="10.8" stroke-linecap="round"/><line x1="450.6" y1="304.0" x2="459.8" y2="316.5" stroke="#93625a" stroke-width="10.8" stroke-linecap="round"/><line x1="459.8" y1="316.5" x2="469.0" y2="329.0" stroke="#2a316f" stroke-width="10.8" stroke-linecap="round"/><line x1="469.0" y1="329.0" x2="471.5" y2="341.5" stroke="#2a316f" stroke-width="10.8" stroke-linecap="round"/><line x1="471.5" y1="341.5" x2="474.0" y2="354.0" stroke="#93625a" stroke-width="10.8" stroke-linecap="round"/><line x1="474.0" y1="354.0" x2="464.0" y2="362.4" stroke="#93625a" stroke-width="10.8" stroke-linecap="round"/><line x1="464.0" y1="362.4" x2="454.0" y2="370.7" stroke="#93625a" stroke-width="10.8" stroke-linecap="round"/><line x1="454.0" y1="370.7" x2="444.0" y2="362.4" stroke="#93625a" stroke-width="10.8" stroke-linecap="round"/><line x1="444.0" y1="362.4" x2="434.0" y2="354.0" stroke="#93625a" stroke-width="10.8" stroke-linecap="round"/><line x1="434.0" y1="354.0" x2="431.4" y2="341.5" stroke="#93625a" stroke-width="10.8" stroke-linecap="round"/><line x1="431.4" y1="341.5" x2="428.9" y2="329.0" stroke="#2a316f" stroke-width="10.8" stroke-linecap="round"/><line x1="428.9" y1="329.0" x2="439.8" y2="316.5" stroke="#2a316f" stroke-width="10.8" stroke-linecap="round"/><line x1="439.8" y1="316.5" x2="450.6" y2="304.0" stroke="#93625a" stroke-width="10.8" stroke-linecap="round"/><line x1="454.0" y1="370.7" x2="455.6" y2="387.4" stroke="#93625a" stroke-width="10.8" stroke-linecap="round"/><line x1="455.6" y1="387.4" x2="457.3" y2="404.0" stroke="#8e9897" stroke-width="10.8" stroke-linecap="round"/></g><g><line x1="561.4" y1="147.4" x2="573.5" y2="145.7" stroke="#8c9898" stroke-width="9.0" stroke-linecap="round"/><line x1="573.5" y1="145.7" x2="585.7" y2="144.0" stroke="#ee9f92" stroke-width="9.0" stroke-linecap="round"/><line x1="464.3" y1="176.9" x2="465.1" y2="188.2" stroke="#7d8585" stroke-width="9.0" stroke-linecap="round"/><line x1="465.1" y1="188.2" x2="466.0" y2="199.5" stroke="#ee9f92" stroke-width="9.0" stroke-linecap="round"/><line x1="493.8" y1="149.2" x2="502.5" y2="160.4" stroke="#e04a3c" stroke-width="9.0" stroke-linecap="round"/><line x1="502.5" y1="160.4" x2="511.1" y2="171.7" stroke="#ee9f92" stroke-width="9.0" stroke-linecap="round"/><line x1="511.1" y1="171.7" x2="504.1" y2="184.7" stroke="#ee9f92" stroke-width="9.0" stroke-linecap="round"/><line x1="504.1" y1="184.7" x2="497.2" y2="197.7" stroke="#4450b4" stroke-width="9.0" stroke-linecap="round"/><line x1="511.1" y1="171.7" x2="527.6" y2="171.7" stroke="#ee9f92" stroke-width="9.0" stroke-linecap="round"/><line x1="527.6" y1="171.7" x2="544.1" y2="171.7" stroke="#ee9f92" stroke-width="9.0" stroke-linecap="round"/><line x1="544.1" y1="171.7" x2="546.7" y2="164.8" stroke="#ee9f92" stroke-width="9.0" stroke-linecap="round"/><line x1="546.7" y1="164.8" x2="549.3" y2="157.8" stroke="#ee9f92" stroke-width="9.0" stroke-linecap="round"/><line x1="549.3" y1="157.8" x2="564.0" y2="156.9" stroke="#ee9f92" stroke-width="9.0" stroke-linecap="round"/><line x1="564.0" y1="156.9" x2="578.8" y2="156.1" stroke="#ee9f92" stroke-width="9.0" stroke-linecap="round"/><line x1="578.8" y1="156.1" x2="592.6" y2="163.1" stroke="#ee9f92" stroke-width="9.0" stroke-linecap="round"/><line x1="592.6" y1="163.1" x2="606.5" y2="170.0" stroke="#ee9f92" stroke-width="9.0" stroke-linecap="round"/><line x1="606.5" y1="170.0" x2="604.8" y2="176.9" stroke="#ee9f92" stroke-width="9.0" stroke-linecap="round"/><line x1="604.8" y1="176.9" x2="603.0" y2="183.9" stroke="#ee9f92" stroke-width="9.0" stroke-linecap="round"/><line x1="603.0" y1="183.9" x2="586.5" y2="183.4" stroke="#ee9f92" stroke-width="9.0" stroke-linecap="round"/><line x1="586.5" y1="183.4" x2="570.1" y2="183.0" stroke="#ee9f92" stroke-width="9.0" stroke-linecap="round"/><line x1="570.1" y1="183.0" x2="557.1" y2="177.3" stroke="#ee9f92" stroke-width="9.0" stroke-linecap="round"/><line x1="557.1" y1="177.3" x2="544.1" y2="171.7" stroke="#ee9f92" stroke-width="9.0" stroke-linecap="round"/><line x1="549.3" y1="157.8" x2="532.8" y2="150.0" stroke="#ee9f92" stroke-width="9.0" stroke-linecap="round"/><line x1="532.8" y1="150.0" x2="516.3" y2="142.2" stroke="#3a9a1f" stroke-width="9.0" stroke-linecap="round"/><line x1="578.8" y1="156.1" x2="582.2" y2="150.1" stroke="#ee9f92" stroke-width="9.0" stroke-linecap="round"/><line x1="582.2" y1="150.1" x2="585.7" y2="144.0" stroke="#ee9f92" stroke-width="9.0" stroke-linecap="round"/><line x1="585.7" y1="144.0" x2="587.5" y2="128.3" stroke="#ee9f92" stroke-width="9.0" stroke-linecap="round"/><line x1="587.5" y1="128.3" x2="589.2" y2="112.7" stroke="#e6f6f4" stroke-width="9.0" stroke-linecap="round"/><line x1="585.7" y1="144.0" x2="599.6" y2="150.1" stroke="#ee9f92" stroke-width="9.0" stroke-linecap="round"/><line x1="599.6" y1="150.1" x2="613.5" y2="156.1" stroke="#e6f6f4" stroke-width="9.0" stroke-linecap="round"/><line x1="497.2" y1="197.7" x2="481.6" y2="198.6" stroke="#4450b4" stroke-width="9.0" stroke-linecap="round"/><line x1="481.6" y1="198.6" x2="466.0" y2="199.5" stroke="#ee9f92" stroke-width="9.0" stroke-linecap="round"/><line x1="500.7" y1="197.0" x2="509.9" y2="213.8" stroke="#4450b4" stroke-width="9.0" stroke-linecap="round"/><line x1="509.9" y1="213.8" x2="519.0" y2="230.5" stroke="#ee9f92" stroke-width="9.0" stroke-linecap="round"/><line x1="519.0" y1="230.5" x2="506.5" y2="243.8" stroke="#ee9f92" stroke-width="9.0" stroke-linecap="round"/><line x1="506.5" y1="243.8" x2="494.0" y2="257.0" stroke="#ee9f92" stroke-width="9.0" stroke-linecap="round"/><line x1="494.0" y1="257.0" x2="482.4" y2="257.0" stroke="#ee9f92" stroke-width="9.0" stroke-linecap="round"/><line x1="482.4" y1="257.0" x2="470.7" y2="257.0" stroke="#ee9f92" stroke-width="9.0" stroke-linecap="round"/><line x1="470.7" y1="257.0" x2="459.9" y2="243.8" stroke="#ee9f92" stroke-width="9.0" stroke-linecap="round"/><line x1="459.9" y1="243.8" x2="449.0" y2="230.5" stroke="#ee9f92" stroke-width="9.0" stroke-linecap="round"/><line x1="449.0" y1="230.5" x2="456.5" y2="213.8" stroke="#ee9f92" stroke-width="9.0" stroke-linecap="round"/><line x1="456.5" y1="213.8" x2="464.0" y2="197.0" stroke="#ee9f92" stroke-width="9.0" stroke-linecap="round"/><line x1="449.0" y1="230.5" x2="438.1" y2="232.2" stroke="#ee9f92" stroke-width="9.0" stroke-linecap="round"/><line x1="438.1" y1="232.2" x2="427.2" y2="233.8" stroke="#4450b4" stroke-width="9.0" stroke-linecap="round"/><line x1="427.2" y1="233.8" x2="423.0" y2="250.5" stroke="#4450b4" stroke-width="9.0" stroke-linecap="round"/><line x1="423.0" y1="250.5" x2="418.9" y2="267.2" stroke="#4450b4" stroke-width="9.0" stroke-linecap="round"/><line x1="418.9" y1="267.2" x2="432.2" y2="272.2" stroke="#4450b4" stroke-width="9.0" stroke-linecap="round"/><line x1="432.2" y1="272.2" x2="445.6" y2="277.2" stroke="#4450b4" stroke-width="9.0" stroke-linecap="round"/><line x1="445.6" y1="277.2" x2="458.1" y2="267.1" stroke="#4450b4" stroke-width="9.0" stroke-linecap="round"/><line x1="458.1" y1="267.1" x2="470.7" y2="257.0" stroke="#ee9f92" stroke-width="9.0" stroke-linecap="round"/><line x1="445.6" y1="277.2" x2="448.1" y2="290.6" stroke="#4450b4" stroke-width="9.0" stroke-linecap="round"/><line x1="448.1" y1="290.6" x2="450.6" y2="304.0" stroke="#ee9f92" stroke-width="9.0" stroke-linecap="round"/><line x1="450.6" y1="304.0" x2="459.8" y2="316.5" stroke="#ee9f92" stroke-width="9.0" stroke-linecap="round"/><line x1="459.8" y1="316.5" x2="469.0" y2="329.0" stroke="#4450b4" stroke-width="9.0" stroke-linecap="round"/><line x1="469.0" y1="329.0" x2="471.5" y2="341.5" stroke="#4450b4" stroke-width="9.0" stroke-linecap="round"/><line x1="471.5" y1="341.5" x2="474.0" y2="354.0" stroke="#ee9f92" stroke-width="9.0" stroke-linecap="round"/><line x1="474.0" y1="354.0" x2="464.0" y2="362.4" stroke="#ee9f92" stroke-width="9.0" stroke-linecap="round"/><line x1="464.0" y1="362.4" x2="454.0" y2="370.7" stroke="#ee9f92" stroke-width="9.0" stroke-linecap="round"/><line x1="454.0" y1="370.7" x2="444.0" y2="362.4" stroke="#ee9f92" stroke-width="9.0" stroke-linecap="round"/><line x1="444.0" y1="362.4" x2="434.0" y2="354.0" stroke="#ee9f92" stroke-width="9.0" stroke-linecap="round"/><line x1="434.0" y1="354.0" x2="431.4" y2="341.5" stroke="#ee9f92" stroke-width="9.0" stroke-linecap="round"/><line x1="431.4" y1="341.5" x2="428.9" y2="329.0" stroke="#4450b4" stroke-width="9.0" stroke-linecap="round"/><line x1="428.9" y1="329.0" x2="439.8" y2="316.5" stroke="#4450b4" stroke-width="9.0" stroke-linecap="round"/><line x1="439.8" y1="316.5" x2="450.6" y2="304.0" stroke="#ee9f92" stroke-width="9.0" stroke-linecap="round"/><line x1="454.0" y1="370.7" x2="455.6" y2="387.4" stroke="#ee9f92" stroke-width="9.0" stroke-linecap="round"/><line x1="455.6" y1="387.4" x2="457.3" y2="404.0" stroke="#e6f6f4" stroke-width="9.0" stroke-linecap="round"/></g><g><line x1="561.4" y1="147.4" x2="573.5" y2="145.7" stroke="#aeb6b6" stroke-width="2.7" stroke-linecap="round" stroke-opacity="0.6"/><line x1="573.5" y1="145.7" x2="585.7" y2="144.0" stroke="#f3bbb2" stroke-width="2.7" stroke-linecap="round" stroke-opacity="0.6"/><line x1="464.3" y1="176.9" x2="465.1" y2="188.2" stroke="#a4a9a9" stroke-width="2.7" stroke-linecap="round" stroke-opacity="0.6"/><line x1="465.1" y1="188.2" x2="466.0" y2="199.5" stroke="#f3bbb2" stroke-width="2.7" stroke-linecap="round" stroke-opacity="0.6"/><line x1="493.8" y1="149.2" x2="502.5" y2="160.4" stroke="#e98076" stroke-width="2.7" stroke-linecap="round" stroke-opacity="0.6"/><line x1="502.5" y1="160.4" x2="511.1" y2="171.7" stroke="#f3bbb2" stroke-width="2.7" stroke-linecap="round" stroke-opacity="0.6"/><line x1="511.1" y1="171.7" x2="504.1" y2="184.7" stroke="#f3bbb2" stroke-width="2.7" stroke-linecap="round" stroke-opacity="0.6"/><line x1="504.1" y1="184.7" x2="497.2" y2="197.7" stroke="#7c84ca" stroke-width="2.7" stroke-linecap="round" stroke-opacity="0.6"/><line x1="511.1" y1="171.7" x2="527.6" y2="171.7" stroke="#f3bbb2" stroke-width="2.7" stroke-linecap="round" stroke-opacity="0.6"/><line x1="527.6" y1="171.7" x2="544.1" y2="171.7" stroke="#f3bbb2" stroke-width="2.7" stroke-linecap="round" stroke-opacity="0.6"/><line x1="544.1" y1="171.7" x2="546.7" y2="164.8" stroke="#f3bbb2" stroke-width="2.7" stroke-linecap="round" stroke-opacity="0.6"/><line x1="546.7" y1="164.8" x2="549.3" y2="157.8" stroke="#f3bbb2" stroke-width="2.7" stroke-linecap="round" stroke-opacity="0.6"/><line x1="549.3" y1="157.8" x2="564.0" y2="156.9" stroke="#f3bbb2" stroke-width="2.7" stroke-linecap="round" stroke-opacity="0.6"/><line x1="564.0" y1="156.9" x2="578.8" y2="156.1" stroke="#f3bbb2" stroke-width="2.7" stroke-linecap="round" stroke-opacity="0.6"/><line x1="578.8" y1="156.1" x2="592.6" y2="163.1" stroke="#f3bbb2" stroke-width="2.7" stroke-linecap="round" stroke-opacity="0.6"/><line x1="592.6" y1="163.1" x2="606.5" y2="170.0" stroke="#f3bbb2" stroke-width="2.7" stroke-linecap="round" stroke-opacity="0.6"/><line x1="606.5" y1="170.0" x2="604.8" y2="176.9" stroke="#f3bbb2" stroke-width="2.7" stroke-linecap="round" stroke-opacity="0.6"/><line x1="604.8" y1="176.9" x2="603.0" y2="183.9" stroke="#f3bbb2" stroke-width="2.7" stroke-linecap="round" stroke-opacity="0.6"/><line x1="603.0" y1="183.9" x2="586.5" y2="183.4" stroke="#f3bbb2" stroke-width="2.7" stroke-linecap="round" stroke-opacity="0.6"/><line x1="586.5" y1="183.4" x2="570.1" y2="183.0" stroke="#f3bbb2" stroke-width="2.7" stroke-linecap="round" stroke-opacity="0.6"/><line x1="570.1" y1="183.0" x2="557.1" y2="177.3" stroke="#f3bbb2" stroke-width="2.7" stroke-linecap="round" stroke-opacity="0.6"/><line x1="557.1" y1="177.3" x2="544.1" y2="171.7" stroke="#f3bbb2" stroke-width="2.7" stroke-linecap="round" stroke-opacity="0.6"/><line x1="549.3" y1="157.8" x2="532.8" y2="150.0" stroke="#f3bbb2" stroke-width="2.7" stroke-linecap="round" stroke-opacity="0.6"/><line x1="532.8" y1="150.0" x2="516.3" y2="142.2" stroke="#75b862" stroke-width="2.7" stroke-linecap="round" stroke-opacity="0.6"/><line x1="578.8" y1="156.1" x2="582.2" y2="150.1" stroke="#f3bbb2" stroke-width="2.7" stroke-linecap="round" stroke-opacity="0.6"/><line x1="582.2" y1="150.1" x2="585.7" y2="144.0" stroke="#f3bbb2" stroke-width="2.7" stroke-linecap="round" stroke-opacity="0.6"/><line x1="585.7" y1="144.0" x2="587.5" y2="128.3" stroke="#f3bbb2" stroke-width="2.7" stroke-linecap="round" stroke-opacity="0.6"/><line x1="587.5" y1="128.3" x2="589.2" y2="112.7" stroke="#edf8f7" stroke-width="2.7" stroke-linecap="round" stroke-opacity="0.6"/><line x1="585.7" y1="144.0" x2="599.6" y2="150.1" stroke="#f3bbb2" stroke-width="2.7" stroke-linecap="round" stroke-opacity="0.6"/><line x1="599.6" y1="150.1" x2="613.5" y2="156.1" stroke="#edf8f7" stroke-width="2.7" stroke-linecap="round" stroke-opacity="0.6"/><line x1="497.2" y1="197.7" x2="481.6" y2="198.6" stroke="#7c84ca" stroke-width="2.7" stroke-linecap="round" stroke-opacity="0.6"/><line x1="481.6" y1="198.6" x2="466.0" y2="199.5" stroke="#f3bbb2" stroke-width="2.7" stroke-linecap="round" stroke-opacity="0.6"/><line x1="500.7" y1="197.0" x2="509.9" y2="213.8" stroke="#7c84ca" stroke-width="2.7" stroke-linecap="round" stroke-opacity="0.6"/><line x1="509.9" y1="213.8" x2="519.0" y2="230.5" stroke="#f3bbb2" stroke-width="2.7" stroke-linecap="round" stroke-opacity="0.6"/><line x1="519.0" y1="230.5" x2="506.5" y2="243.8" stroke="#f3bbb2" stroke-width="2.7" stroke-linecap="round" stroke-opacity="0.6"/><line x1="506.5" y1="243.8" x2="494.0" y2="257.0" stroke="#f3bbb2" stroke-width="2.7" stroke-linecap="round" stroke-opacity="0.6"/><line x1="494.0" y1="257.0" x2="482.4" y2="257.0" stroke="#f3bbb2" stroke-width="2.7" stroke-linecap="round" stroke-opacity="0.6"/><line x1="482.4" y1="257.0" x2="470.7" y2="257.0" stroke="#f3bbb2" stroke-width="2.7" stroke-linecap="round" stroke-opacity="0.6"/><line x1="470.7" y1="257.0" x2="459.9" y2="243.8" stroke="#f3bbb2" stroke-width="2.7" stroke-linecap="round" stroke-opacity="0.6"/><line x1="459.9" y1="243.8" x2="449.0" y2="230.5" stroke="#f3bbb2" stroke-width="2.7" stroke-linecap="round" stroke-opacity="0.6"/><line x1="449.0" y1="230.5" x2="456.5" y2="213.8" stroke="#f3bbb2" stroke-width="2.7" stroke-linecap="round" stroke-opacity="0.6"/><line x1="456.5" y1="213.8" x2="464.0" y2="197.0" stroke="#f3bbb2" stroke-width="2.7" stroke-linecap="round" stroke-opacity="0.6"/><line x1="449.0" y1="230.5" x2="438.1" y2="232.2" stroke="#f3bbb2" stroke-width="2.7" stroke-linecap="round" stroke-opacity="0.6"/><line x1="438.1" y1="232.2" x2="427.2" y2="233.8" stroke="#7c84ca" stroke-width="2.7" stroke-linecap="round" stroke-opacity="0.6"/><line x1="427.2" y1="233.8" x2="423.0" y2="250.5" stroke="#7c84ca" stroke-width="2.7" stroke-linecap="round" stroke-opacity="0.6"/><line x1="423.0" y1="250.5" x2="418.9" y2="267.2" stroke="#7c84ca" stroke-width="2.7" stroke-linecap="round" stroke-opacity="0.6"/><line x1="418.9" y1="267.2" x2="432.2" y2="272.2" stroke="#7c84ca" stroke-width="2.7" stroke-linecap="round" stroke-opacity="0.6"/><line x1="432.2" y1="272.2" x2="445.6" y2="277.2" stroke="#7c84ca" stroke-width="2.7" stroke-linecap="round" stroke-opacity="0.6"/><line x1="445.6" y1="277.2" x2="458.1" y2="267.1" stroke="#7c84ca" stroke-width="2.7" stroke-linecap="round" stroke-opacity="0.6"/><line x1="458.1" y1="267.1" x2="470.7" y2="257.0" stroke="#f3bbb2" stroke-width="2.7" stroke-linecap="round" stroke-opacity="0.6"/><line x1="445.6" y1="277.2" x2="448.1" y2="290.6" stroke="#7c84ca" stroke-width="2.7" stroke-linecap="round" stroke-opacity="0.6"/><line x1="448.1" y1="290.6" x2="450.6" y2="304.0" stroke="#f3bbb2" stroke-width="2.7" stroke-linecap="round" stroke-opacity="0.6"/><line x1="450.6" y1="304.0" x2="459.8" y2="316.5" stroke="#f3bbb2" stroke-width="2.7" stroke-linecap="round" stroke-opacity="0.6"/><line x1="459.8" y1="316.5" x2="469.0" y2="329.0" stroke="#7c84ca" stroke-width="2.7" stroke-linecap="round" stroke-opacity="0.6"/><line x1="469.0" y1="329.0" x2="471.5" y2="341.5" stroke="#7c84ca" stroke-width="2.7" stroke-linecap="round" stroke-opacity="0.6"/><line x1="471.5" y1="341.5" x2="474.0" y2="354.0" stroke="#f3bbb2" stroke-width="2.7" stroke-linecap="round" stroke-opacity="0.6"/><line x1="474.0" y1="354.0" x2="464.0" y2="362.4" stroke="#f3bbb2" stroke-width="2.7" stroke-linecap="round" stroke-opacity="0.6"/><line x1="464.0" y1="362.4" x2="454.0" y2="370.7" stroke="#f3bbb2" stroke-width="2.7" stroke-linecap="round" stroke-opacity="0.6"/><line x1="454.0" y1="370.7" x2="444.0" y2="362.4" stroke="#f3bbb2" stroke-width="2.7" stroke-linecap="round" stroke-opacity="0.6"/><line x1="444.0" y1="362.4" x2="434.0" y2="354.0" stroke="#f3bbb2" stroke-width="2.7" stroke-linecap="round" stroke-opacity="0.6"/><line x1="434.0" y1="354.0" x2="431.4" y2="341.5" stroke="#f3bbb2" stroke-width="2.7" stroke-linecap="round" stroke-opacity="0.6"/><line x1="431.4" y1="341.5" x2="428.9" y2="329.0" stroke="#7c84ca" stroke-width="2.7" stroke-linecap="round" stroke-opacity="0.6"/><line x1="428.9" y1="329.0" x2="439.8" y2="316.5" stroke="#7c84ca" stroke-width="2.7" stroke-linecap="round" stroke-opacity="0.6"/><line x1="439.8" y1="316.5" x2="450.6" y2="304.0" stroke="#f3bbb2" stroke-width="2.7" stroke-linecap="round" stroke-opacity="0.6"/><line x1="454.0" y1="370.7" x2="455.6" y2="387.4" stroke="#f3bbb2" stroke-width="2.7" stroke-linecap="round" stroke-opacity="0.6"/><line x1="455.6" y1="387.4" x2="457.3" y2="404.0" stroke="#edf8f7" stroke-width="2.7" stroke-linecap="round" stroke-opacity="0.6"/></g>
</g>
</g>
<ellipse cx="459.5" cy="315.0" rx="312.5" ry="306.0" fill="none" stroke="#5a5f60" stroke-width="1.3"/>
<text x="303.4" y="130.6" font-size="28" fill="#000" >K297</text>
<text x="251.3" y="221.4" font-size="28" fill="#000" >I310</text>
<text x="190.6" y="291.8" font-size="28" fill="#000" >Y295</text>
<text x="258.7" y="376.1" font-size="28" fill="#000" >V312</text>
<text x="680.0" y="294.9" font-size="28" fill="#000" >F88</text>
<text x="508.4" y="393.6" font-size="28" fill="#000" >M105</text>
<text x="451.2" y="464.5" font-size="28" fill="#000" >F103</text>
<text x="332.2" y="548.5" font-size="28" fill="#000" >F95</text>
<text x="527.6" y="543.2" font-size="28" fill="#000" >P96</text>
<text x="558.4" y="71.1" font-size="26.5" fill="#cf6410" text-anchor="middle">PCP2</text>
<text x="558.4" y="104.9" font-size="26.5" fill="#cf6410" text-anchor="middle">site</text>
<rect x="492.6" y="305.2" width="183.5" height="32.1" fill="#f4a2a0"/>
<text x="494.5" y="333.3" font-size="28" fill="#8a6a68" transform="translate(1,1)" fill-opacity="0.5">JNJ-54175446</text>
<text x="494.5" y="333.3" font-size="28" fill="#ffffff" >JNJ-54175446</text>
<g clip-path="url(#clipD)">
<g transform="matrix(0.979,0.0184,-0.0006,0.9488,955.4,6.28)"><use href="#surf"/>
<polygon points="146.0,333.0 178.0,340.0 153.0,371.0 120.0,371.0 120.0,333.0" fill="#ffffff" fill-opacity="1.0" />
<use href="#res"/></g>
<path d="M1425.8,186.2 L1414.7,197.9 L1402.3,199.3 L1391.3,207.6 L1374.8,221.4 L1369.2,232.4 L1366.5,246.2 L1361.0,257.2 L1352.7,276.5 L1341.7,301.3 L1329.3,312.3 L1311.4,324.7 L1297.6,335.8 L1276.9,349.5 L1258.0,362.0 L1243.0,380.0 L1242.0,400.0 L1252.0,415.0 L1268.0,428.0 L1293.7,444.2 L1310.4,449.2 L1328.0,442.0 L1343.1,422.6 L1358.2,419.8 L1373.4,425.3 L1391.3,430.9 L1407.8,430.9 L1425.8,424.0 L1435.4,412.9 L1443.7,403.3 L1454.7,393.6 L1456.1,379.9 L1450.6,359.2 L1440.9,335.8 L1435.4,317.8 L1438.2,304.1 L1449.2,294.4 L1469.9,284.8 L1489.2,273.7 L1500.0,268.0 L1510.0,255.0 L1512.0,235.0 L1505.0,220.0 L1497.4,203.7" fill="none" stroke="#d2660e" stroke-width="2.6" stroke-dasharray="14,8" stroke-linejoin="round"/>
<g><g><line x1="1424.4" y1="211.7" x2="1420.2" y2="224.1" stroke="#8a2d25" stroke-width="9.4" stroke-linecap="round"/><line x1="1420.2" y1="224.1" x2="1416.1" y2="236.5" stroke="#44732d" stroke-width="9.4" stroke-linecap="round"/><line x1="1416.1" y1="236.5" x2="1403.7" y2="246.2" stroke="#44732d" stroke-width="9.4" stroke-linecap="round"/><line x1="1403.7" y1="246.2" x2="1391.3" y2="255.8" stroke="#44732d" stroke-width="9.4" stroke-linecap="round"/><line x1="1391.3" y1="255.8" x2="1387.2" y2="268.2" stroke="#44732d" stroke-width="9.4" stroke-linecap="round"/><line x1="1387.2" y1="268.2" x2="1383.0" y2="280.6" stroke="#44732d" stroke-width="9.4" stroke-linecap="round"/><line x1="1383.0" y1="280.6" x2="1397.5" y2="275.1" stroke="#44732d" stroke-width="9.4" stroke-linecap="round"/><line x1="1397.5" y1="275.1" x2="1412.0" y2="269.6" stroke="#44732d" stroke-width="9.4" stroke-linecap="round"/><line x1="1412.0" y1="269.6" x2="1416.8" y2="257.9" stroke="#44732d" stroke-width="9.4" stroke-linecap="round"/><line x1="1416.8" y1="257.9" x2="1421.6" y2="246.2" stroke="#44732d" stroke-width="9.4" stroke-linecap="round"/><line x1="1421.6" y1="246.2" x2="1418.8" y2="241.3" stroke="#44732d" stroke-width="9.4" stroke-linecap="round"/><line x1="1418.8" y1="241.3" x2="1416.1" y2="236.5" stroke="#44732d" stroke-width="9.4" stroke-linecap="round"/><line x1="1421.6" y1="244.8" x2="1430.5" y2="234.4" stroke="#44732d" stroke-width="9.4" stroke-linecap="round"/><line x1="1430.5" y1="234.4" x2="1439.5" y2="224.1" stroke="#8a2d25" stroke-width="9.4" stroke-linecap="round"/><line x1="1439.5" y1="224.1" x2="1457.5" y2="224.8" stroke="#8a2d25" stroke-width="9.4" stroke-linecap="round"/><line x1="1457.5" y1="224.8" x2="1475.4" y2="225.5" stroke="#44732d" stroke-width="9.4" stroke-linecap="round"/><line x1="1413.4" y1="269.6" x2="1418.9" y2="273.1" stroke="#44732d" stroke-width="9.4" stroke-linecap="round"/><line x1="1418.9" y1="273.1" x2="1424.4" y2="276.5" stroke="#44732d" stroke-width="9.4" stroke-linecap="round"/><line x1="1424.4" y1="276.5" x2="1421.7" y2="290.3" stroke="#44732d" stroke-width="9.4" stroke-linecap="round"/><line x1="1421.7" y1="290.3" x2="1418.9" y2="304.1" stroke="#2a316f" stroke-width="9.4" stroke-linecap="round"/><line x1="1384.4" y1="280.6" x2="1387.8" y2="286.8" stroke="#44732d" stroke-width="9.4" stroke-linecap="round"/><line x1="1387.8" y1="286.8" x2="1391.3" y2="293.0" stroke="#44732d" stroke-width="9.4" stroke-linecap="round"/><line x1="1391.3" y1="293.0" x2="1387.8" y2="302.6" stroke="#44732d" stroke-width="9.4" stroke-linecap="round"/><line x1="1387.8" y1="302.6" x2="1384.4" y2="312.3" stroke="#44732d" stroke-width="9.4" stroke-linecap="round"/><line x1="1418.9" y1="304.1" x2="1401.0" y2="310.3" stroke="#2a316f" stroke-width="9.4" stroke-linecap="round"/><line x1="1401.0" y1="310.3" x2="1383.0" y2="316.5" stroke="#44732d" stroke-width="9.4" stroke-linecap="round"/><line x1="1418.9" y1="304.1" x2="1422.3" y2="308.2" stroke="#2a316f" stroke-width="9.4" stroke-linecap="round"/><line x1="1422.3" y1="308.2" x2="1425.8" y2="312.3" stroke="#44732d" stroke-width="9.4" stroke-linecap="round"/><line x1="1425.8" y1="312.3" x2="1425.8" y2="321.2" stroke="#44732d" stroke-width="9.4" stroke-linecap="round"/><line x1="1425.8" y1="321.2" x2="1425.8" y2="330.2" stroke="#44732d" stroke-width="9.4" stroke-linecap="round"/><line x1="1425.8" y1="330.2" x2="1423.7" y2="343.3" stroke="#44732d" stroke-width="9.4" stroke-linecap="round"/><line x1="1423.7" y1="343.3" x2="1421.6" y2="356.4" stroke="#44732d" stroke-width="9.4" stroke-linecap="round"/><line x1="1383.0" y1="316.5" x2="1377.5" y2="331.6" stroke="#44732d" stroke-width="9.4" stroke-linecap="round"/><line x1="1377.5" y1="331.6" x2="1372.0" y2="346.8" stroke="#44732d" stroke-width="9.4" stroke-linecap="round"/><line x1="1383.0" y1="316.5" x2="1387.2" y2="321.3" stroke="#44732d" stroke-width="9.4" stroke-linecap="round"/><line x1="1387.2" y1="321.3" x2="1391.3" y2="326.1" stroke="#44732d" stroke-width="9.4" stroke-linecap="round"/><line x1="1391.3" y1="326.1" x2="1396.8" y2="336.5" stroke="#44732d" stroke-width="9.4" stroke-linecap="round"/><line x1="1396.8" y1="336.5" x2="1402.3" y2="346.8" stroke="#44732d" stroke-width="9.4" stroke-linecap="round"/><line x1="1402.3" y1="346.8" x2="1395.4" y2="350.2" stroke="#44732d" stroke-width="9.4" stroke-linecap="round"/><line x1="1395.4" y1="350.2" x2="1388.5" y2="353.7" stroke="#44732d" stroke-width="9.4" stroke-linecap="round"/><line x1="1421.6" y1="356.4" x2="1404.4" y2="359.9" stroke="#44732d" stroke-width="9.4" stroke-linecap="round"/><line x1="1404.4" y1="359.9" x2="1387.2" y2="363.3" stroke="#44732d" stroke-width="9.4" stroke-linecap="round"/><line x1="1372.0" y1="346.8" x2="1354.1" y2="351.6" stroke="#44732d" stroke-width="9.4" stroke-linecap="round"/><line x1="1354.1" y1="351.6" x2="1336.2" y2="356.4" stroke="#44732d" stroke-width="9.4" stroke-linecap="round"/><line x1="1336.2" y1="356.4" x2="1330.7" y2="369.5" stroke="#44732d" stroke-width="9.4" stroke-linecap="round"/><line x1="1330.7" y1="369.5" x2="1325.1" y2="382.6" stroke="#44732d" stroke-width="9.4" stroke-linecap="round"/><line x1="1325.1" y1="382.6" x2="1332.0" y2="391.6" stroke="#44732d" stroke-width="9.4" stroke-linecap="round"/><line x1="1332.0" y1="391.6" x2="1338.9" y2="400.5" stroke="#44732d" stroke-width="9.4" stroke-linecap="round"/><line x1="1338.9" y1="400.5" x2="1356.8" y2="395.0" stroke="#44732d" stroke-width="9.4" stroke-linecap="round"/><line x1="1356.8" y1="395.0" x2="1374.8" y2="389.5" stroke="#44732d" stroke-width="9.4" stroke-linecap="round"/><line x1="1374.8" y1="389.5" x2="1381.0" y2="376.4" stroke="#44732d" stroke-width="9.4" stroke-linecap="round"/><line x1="1381.0" y1="376.4" x2="1387.2" y2="363.3" stroke="#44732d" stroke-width="9.4" stroke-linecap="round"/><line x1="1387.2" y1="363.3" x2="1379.6" y2="355.1" stroke="#44732d" stroke-width="9.4" stroke-linecap="round"/><line x1="1379.6" y1="355.1" x2="1372.0" y2="346.8" stroke="#44732d" stroke-width="9.4" stroke-linecap="round"/><line x1="1355.5" y1="373.0" x2="1371.3" y2="370.2" stroke="#44732d" stroke-width="9.4" stroke-linecap="round"/><line x1="1371.3" y1="370.2" x2="1387.2" y2="367.5" stroke="#44732d" stroke-width="9.4" stroke-linecap="round"/><line x1="1325.1" y1="382.6" x2="1311.3" y2="387.5" stroke="#44732d" stroke-width="9.4" stroke-linecap="round"/><line x1="1311.3" y1="387.5" x2="1297.6" y2="392.3" stroke="#8a2d25" stroke-width="9.4" stroke-linecap="round"/><line x1="1297.6" y1="392.3" x2="1294.8" y2="404.0" stroke="#8a2d25" stroke-width="9.4" stroke-linecap="round"/><line x1="1294.8" y1="404.0" x2="1292.1" y2="415.7" stroke="#44732d" stroke-width="9.4" stroke-linecap="round"/><line x1="1292.1" y1="415.7" x2="1307.2" y2="420.5" stroke="#44732d" stroke-width="9.4" stroke-linecap="round"/><line x1="1307.2" y1="420.5" x2="1322.4" y2="425.3" stroke="#8a2d25" stroke-width="9.4" stroke-linecap="round"/><line x1="1322.4" y1="425.3" x2="1330.7" y2="412.9" stroke="#8a2d25" stroke-width="9.4" stroke-linecap="round"/><line x1="1330.7" y1="412.9" x2="1338.9" y2="400.5" stroke="#44732d" stroke-width="9.4" stroke-linecap="round"/></g><g><line x1="1424.4" y1="211.7" x2="1420.2" y2="224.1" stroke="#e04a3c" stroke-width="7.6" stroke-linecap="round"/><line x1="1420.2" y1="224.1" x2="1416.1" y2="236.5" stroke="#6fbb4a" stroke-width="7.6" stroke-linecap="round"/><line x1="1416.1" y1="236.5" x2="1403.7" y2="246.2" stroke="#6fbb4a" stroke-width="7.6" stroke-linecap="round"/><line x1="1403.7" y1="246.2" x2="1391.3" y2="255.8" stroke="#6fbb4a" stroke-width="7.6" stroke-linecap="round"/><line x1="1391.3" y1="255.8" x2="1387.2" y2="268.2" stroke="#6fbb4a" stroke-width="7.6" stroke-linecap="round"/><line x1="1387.2" y1="268.2" x2="1383.0" y2="280.6" stroke="#6fbb4a" stroke-width="7.6" stroke-linecap="round"/><line x1="1383.0" y1="280.6" x2="1397.5" y2="275.1" stroke="#6fbb4a" stroke-width="7.6" stroke-linecap="round"/><line x1="1397.5" y1="275.1" x2="1412.0" y2="269.6" stroke="#6fbb4a" stroke-width="7.6" stroke-linecap="round"/><line x1="1412.0" y1="269.6" x2="1416.8" y2="257.9" stroke="#6fbb4a" stroke-width="7.6" stroke-linecap="round"/><line x1="1416.8" y1="257.9" x2="1421.6" y2="246.2" stroke="#6fbb4a" stroke-width="7.6" stroke-linecap="round"/><line x1="1421.6" y1="246.2" x2="1418.8" y2="241.3" stroke="#6fbb4a" stroke-width="7.6" stroke-linecap="round"/><line x1="1418.8" y1="241.3" x2="1416.1" y2="236.5" stroke="#6fbb4a" stroke-width="7.6" stroke-linecap="round"/><line x1="1421.6" y1="244.8" x2="1430.5" y2="234.4" stroke="#6fbb4a" stroke-width="7.6" stroke-linecap="round"/><line x1="1430.5" y1="234.4" x2="1439.5" y2="224.1" stroke="#e04a3c" stroke-width="7.6" stroke-linecap="round"/><line x1="1439.5" y1="224.1" x2="1457.5" y2="224.8" stroke="#e04a3c" stroke-width="7.6" stroke-linecap="round"/><line x1="1457.5" y1="224.8" x2="1475.4" y2="225.5" stroke="#6fbb4a" stroke-width="7.6" stroke-linecap="round"/><line x1="1413.4" y1="269.6" x2="1418.9" y2="273.1" stroke="#6fbb4a" stroke-width="7.6" stroke-linecap="round"/><line x1="1418.9" y1="273.1" x2="1424.4" y2="276.5" stroke="#6fbb4a" stroke-width="7.6" stroke-linecap="round"/><line x1="1424.4" y1="276.5" x2="1421.7" y2="290.3" stroke="#6fbb4a" stroke-width="7.6" stroke-linecap="round"/><line x1="1421.7" y1="290.3" x2="1418.9" y2="304.1" stroke="#4450b4" stroke-width="7.6" stroke-linecap="round"/><line x1="1384.4" y1="280.6" x2="1387.8" y2="286.8" stroke="#6fbb4a" stroke-width="7.6" stroke-linecap="round"/><line x1="1387.8" y1="286.8" x2="1391.3" y2="293.0" stroke="#6fbb4a" stroke-width="7.6" stroke-linecap="round"/><line x1="1391.3" y1="293.0" x2="1387.8" y2="302.6" stroke="#6fbb4a" stroke-width="7.6" stroke-linecap="round"/><line x1="1387.8" y1="302.6" x2="1384.4" y2="312.3" stroke="#6fbb4a" stroke-width="7.6" stroke-linecap="round"/><line x1="1418.9" y1="304.1" x2="1401.0" y2="310.3" stroke="#4450b4" stroke-width="7.6" stroke-linecap="round"/><line x1="1401.0" y1="310.3" x2="1383.0" y2="316.5" stroke="#6fbb4a" stroke-width="7.6" stroke-linecap="round"/><line x1="1418.9" y1="304.1" x2="1422.3" y2="308.2" stroke="#4450b4" stroke-width="7.6" stroke-linecap="round"/><line x1="1422.3" y1="308.2" x2="1425.8" y2="312.3" stroke="#6fbb4a" stroke-width="7.6" stroke-linecap="round"/><line x1="1425.8" y1="312.3" x2="1425.8" y2="321.2" stroke="#6fbb4a" stroke-width="7.6" stroke-linecap="round"/><line x1="1425.8" y1="321.2" x2="1425.8" y2="330.2" stroke="#6fbb4a" stroke-width="7.6" stroke-linecap="round"/><line x1="1425.8" y1="330.2" x2="1423.7" y2="343.3" stroke="#6fbb4a" stroke-width="7.6" stroke-linecap="round"/><line x1="1423.7" y1="343.3" x2="1421.6" y2="356.4" stroke="#6fbb4a" stroke-width="7.6" stroke-linecap="round"/><line x1="1383.0" y1="316.5" x2="1377.5" y2="331.6" stroke="#6fbb4a" stroke-width="7.6" stroke-linecap="round"/><line x1="1377.5" y1="331.6" x2="1372.0" y2="346.8" stroke="#6fbb4a" stroke-width="7.6" stroke-linecap="round"/><line x1="1383.0" y1="316.5" x2="1387.2" y2="321.3" stroke="#6fbb4a" stroke-width="7.6" stroke-linecap="round"/><line x1="1387.2" y1="321.3" x2="1391.3" y2="326.1" stroke="#6fbb4a" stroke-width="7.6" stroke-linecap="round"/><line x1="1391.3" y1="326.1" x2="1396.8" y2="336.5" stroke="#6fbb4a" stroke-width="7.6" stroke-linecap="round"/><line x1="1396.8" y1="336.5" x2="1402.3" y2="346.8" stroke="#6fbb4a" stroke-width="7.6" stroke-linecap="round"/><line x1="1402.3" y1="346.8" x2="1395.4" y2="350.2" stroke="#6fbb4a" stroke-width="7.6" stroke-linecap="round"/><line x1="1395.4" y1="350.2" x2="1388.5" y2="353.7" stroke="#6fbb4a" stroke-width="7.6" stroke-linecap="round"/><line x1="1421.6" y1="356.4" x2="1404.4" y2="359.9" stroke="#6fbb4a" stroke-width="7.6" stroke-linecap="round"/><line x1="1404.4" y1="359.9" x2="1387.2" y2="363.3" stroke="#6fbb4a" stroke-width="7.6" stroke-linecap="round"/><line x1="1372.0" y1="346.8" x2="1354.1" y2="351.6" stroke="#6fbb4a" stroke-width="7.6" stroke-linecap="round"/><line x1="1354.1" y1="351.6" x2="1336.2" y2="356.4" stroke="#6fbb4a" stroke-width="7.6" stroke-linecap="round"/><line x1="1336.2" y1="356.4" x2="1330.7" y2="369.5" stroke="#6fbb4a" stroke-width="7.6" stroke-linecap="round"/><line x1="1330.7" y1="369.5" x2="1325.1" y2="382.6" stroke="#6fbb4a" stroke-width="7.6" stroke-linecap="round"/><line x1="1325.1" y1="382.6" x2="1332.0" y2="391.6" stroke="#6fbb4a" stroke-width="7.6" stroke-linecap="round"/><line x1="1332.0" y1="391.6" x2="1338.9" y2="400.5" stroke="#6fbb4a" stroke-width="7.6" stroke-linecap="round"/><line x1="1338.9" y1="400.5" x2="1356.8" y2="395.0" stroke="#6fbb4a" stroke-width="7.6" stroke-linecap="round"/><line x1="1356.8" y1="395.0" x2="1374.8" y2="389.5" stroke="#6fbb4a" stroke-width="7.6" stroke-linecap="round"/><line x1="1374.8" y1="389.5" x2="1381.0" y2="376.4" stroke="#6fbb4a" stroke-width="7.6" stroke-linecap="round"/><line x1="1381.0" y1="376.4" x2="1387.2" y2="363.3" stroke="#6fbb4a" stroke-width="7.6" stroke-linecap="round"/><line x1="1387.2" y1="363.3" x2="1379.6" y2="355.1" stroke="#6fbb4a" stroke-width="7.6" stroke-linecap="round"/><line x1="1379.6" y1="355.1" x2="1372.0" y2="346.8" stroke="#6fbb4a" stroke-width="7.6" stroke-linecap="round"/><line x1="1355.5" y1="373.0" x2="1371.3" y2="370.2" stroke="#6fbb4a" stroke-width="7.6" stroke-linecap="round"/><line x1="1371.3" y1="370.2" x2="1387.2" y2="367.5" stroke="#6fbb4a" stroke-width="7.6" stroke-linecap="round"/><line x1="1325.1" y1="382.6" x2="1311.3" y2="387.5" stroke="#6fbb4a" stroke-width="7.6" stroke-linecap="round"/><line x1="1311.3" y1="387.5" x2="1297.6" y2="392.3" stroke="#e04a3c" stroke-width="7.6" stroke-linecap="round"/><line x1="1297.6" y1="392.3" x2="1294.8" y2="404.0" stroke="#e04a3c" stroke-width="7.6" stroke-linecap="round"/><line x1="1294.8" y1="404.0" x2="1292.1" y2="415.7" stroke="#6fbb4a" stroke-width="7.6" stroke-linecap="round"/><line x1="1292.1" y1="415.7" x2="1307.2" y2="420.5" stroke="#6fbb4a" stroke-width="7.6" stroke-linecap="round"/><line x1="1307.2" y1="420.5" x2="1322.4" y2="425.3" stroke="#e04a3c" stroke-width="7.6" stroke-linecap="round"/><line x1="1322.4" y1="425.3" x2="1330.7" y2="412.9" stroke="#e04a3c" stroke-width="7.6" stroke-linecap="round"/><line x1="1330.7" y1="412.9" x2="1338.9" y2="400.5" stroke="#6fbb4a" stroke-width="7.6" stroke-linecap="round"/></g><g><line x1="1424.4" y1="211.7" x2="1420.2" y2="224.1" stroke="#e98076" stroke-width="2.3" stroke-linecap="round" stroke-opacity="0.6"/><line x1="1420.2" y1="224.1" x2="1416.1" y2="236.5" stroke="#9acf80" stroke-width="2.3" stroke-linecap="round" stroke-opacity="0.6"/><line x1="1416.1" y1="236.5" x2="1403.7" y2="246.2" stroke="#9acf80" stroke-width="2.3" stroke-linecap="round" stroke-opacity="0.6"/><line x1="1403.7" y1="246.2" x2="1391.3" y2="255.8" stroke="#9acf80" stroke-width="2.3" stroke-linecap="round" stroke-opacity="0.6"/><line x1="1391.3" y1="255.8" x2="1387.2" y2="268.2" stroke="#9acf80" stroke-width="2.3" stroke-linecap="round" stroke-opacity="0.6"/><line x1="1387.2" y1="268.2" x2="1383.0" y2="280.6" stroke="#9acf80" stroke-width="2.3" stroke-linecap="round" stroke-opacity="0.6"/><line x1="1383.0" y1="280.6" x2="1397.5" y2="275.1" stroke="#9acf80" stroke-width="2.3" stroke-linecap="round" stroke-opacity="0.6"/><line x1="1397.5" y1="275.1" x2="1412.0" y2="269.6" stroke="#9acf80" stroke-width="2.3" stroke-linecap="round" stroke-opacity="0.6"/><line x1="1412.0" y1="269.6" x2="1416.8" y2="257.9" stroke="#9acf80" stroke-width="2.3" stroke-linecap="round" stroke-opacity="0.6"/><line x1="1416.8" y1="257.9" x2="1421.6" y2="246.2" stroke="#9acf80" stroke-width="2.3" stroke-linecap="round" stroke-opacity="0.6"/><line x1="1421.6" y1="246.2" x2="1418.8" y2="241.3" stroke="#9acf80" stroke-width="2.3" stroke-linecap="round" stroke-opacity="0.6"/><line x1="1418.8" y1="241.3" x2="1416.1" y2="236.5" stroke="#9acf80" stroke-width="2.3" stroke-linecap="round" stroke-opacity="0.6"/><line x1="1421.6" y1="244.8" x2="1430.5" y2="234.4" stroke="#9acf80" stroke-width="2.3" stroke-linecap="round" stroke-opacity="0.6"/><line x1="1430.5" y1="234.4" x2="1439.5" y2="224.1" stroke="#e98076" stroke-width="2.3" stroke-linecap="round" stroke-opacity="0.6"/><line x1="1439.5" y1="224.1" x2="1457.5" y2="224.8" stroke="#e98076" stroke-width="2.3" stroke-linecap="round" stroke-opacity="0.6"/><line x1="1457.5" y1="224.8" x2="1475.4" y2="225.5" stroke="#9acf80" stroke-width="2.3" stroke-linecap="round" stroke-opacity="0.6"/><line x1="1413.4" y1="269.6" x2="1418.9" y2="273.1" stroke="#9acf80" stroke-width="2.3" stroke-linecap="round" stroke-opacity="0.6"/><line x1="1418.9" y1="273.1" x2="1424.4" y2="276.5" stroke="#9acf80" stroke-width="2.3" stroke-linecap="round" stroke-opacity="0.6"/><line x1="1424.4" y1="276.5" x2="1421.7" y2="290.3" stroke="#9acf80" stroke-width="2.3" stroke-linecap="round" stroke-opacity="0.6"/><line x1="1421.7" y1="290.3" x2="1418.9" y2="304.1" stroke="#7c84ca" stroke-width="2.3" stroke-linecap="round" stroke-opacity="0.6"/><line x1="1384.4" y1="280.6" x2="1387.8" y2="286.8" stroke="#9acf80" stroke-width="2.3" stroke-linecap="round" stroke-opacity="0.6"/><line x1="1387.8" y1="286.8" x2="1391.3" y2="293.0" stroke="#9acf80" stroke-width="2.3" stroke-linecap="round" stroke-opacity="0.6"/><line x1="1391.3" y1="293.0" x2="1387.8" y2="302.6" stroke="#9acf80" stroke-width="2.3" stroke-linecap="round" stroke-opacity="0.6"/><line x1="1387.8" y1="302.6" x2="1384.4" y2="312.3" stroke="#9acf80" stroke-width="2.3" stroke-linecap="round" stroke-opacity="0.6"/><line x1="1418.9" y1="304.1" x2="1401.0" y2="310.3" stroke="#7c84ca" stroke-width="2.3" stroke-linecap="round" stroke-opacity="0.6"/><line x1="1401.0" y1="310.3" x2="1383.0" y2="316.5" stroke="#9acf80" stroke-width="2.3" stroke-linecap="round" stroke-opacity="0.6"/><line x1="1418.9" y1="304.1" x2="1422.3" y2="308.2" stroke="#7c84ca" stroke-width="2.3" stroke-linecap="round" stroke-opacity="0.6"/><line x1="1422.3" y1="308.2" x2="1425.8" y2="312.3" stroke="#9acf80" stroke-width="2.3" stroke-linecap="round" stroke-opacity="0.6"/><line x1="1425.8" y1="312.3" x2="1425.8" y2="321.2" stroke="#9acf80" stroke-width="2.3" stroke-linecap="round" stroke-opacity="0.6"/><line x1="1425.8" y1="321.2" x2="1425.8" y2="330.2" stroke="#9acf80" stroke-width="2.3" stroke-linecap="round" stroke-opacity="0.6"/><line x1="1425.8" y1="330.2" x2="1423.7" y2="343.3" stroke="#9acf80" stroke-width="2.3" stroke-linecap="round" stroke-opacity="0.6"/><line x1="1423.7" y1="343.3" x2="1421.6" y2="356.4" stroke="#9acf80" stroke-width="2.3" stroke-linecap="round" stroke-opacity="0.6"/><line x1="1383.0" y1="316.5" x2="1377.5" y2="331.6" stroke="#9acf80" stroke-width="2.3" stroke-linecap="round" stroke-opacity="0.6"/><line x1="1377.5" y1="331.6" x2="1372.0" y2="346.8" stroke="#9acf80" stroke-width="2.3" stroke-linecap="round" stroke-opacity="0.6"/><line x1="1383.0" y1="316.5" x2="1387.2" y2="321.3" stroke="#9acf80" stroke-width="2.3" stroke-linecap="round" stroke-opacity="0.6"/><line x1="1387.2" y1="321.3" x2="1391.3" y2="326.1" stroke="#9acf80" stroke-width="2.3" stroke-linecap="round" stroke-opacity="0.6"/><line x1="1391.3" y1="326.1" x2="1396.8" y2="336.5" stroke="#9acf80" stroke-width="2.3" stroke-linecap="round" stroke-opacity="0.6"/><line x1="1396.8" y1="336.5" x2="1402.3" y2="346.8" stroke="#9acf80" stroke-width="2.3" stroke-linecap="round" stroke-opacity="0.6"/><line x1="1402.3" y1="346.8" x2="1395.4" y2="350.2" stroke="#9acf80" stroke-width="2.3" stroke-linecap="round" stroke-opacity="0.6"/><line x1="1395.4" y1="350.2" x2="1388.5" y2="353.7" stroke="#9acf80" stroke-width="2.3" stroke-linecap="round" stroke-opacity="0.6"/><line x1="1421.6" y1="356.4" x2="1404.4" y2="359.9" stroke="#9acf80" stroke-width="2.3" stroke-linecap="round" stroke-opacity="0.6"/><line x1="1404.4" y1="359.9" x2="1387.2" y2="363.3" stroke="#9acf80" stroke-width="2.3" stroke-linecap="round" stroke-opacity="0.6"/><line x1="1372.0" y1="346.8" x2="1354.1" y2="351.6" stroke="#9acf80" stroke-width="2.3" stroke-linecap="round" stroke-opacity="0.6"/><line x1="1354.1" y1="351.6" x2="1336.2" y2="356.4" stroke="#9acf80" stroke-width="2.3" stroke-linecap="round" stroke-opacity="0.6"/><line x1="1336.2" y1="356.4" x2="1330.7" y2="369.5" stroke="#9acf80" stroke-width="2.3" stroke-linecap="round" stroke-opacity="0.6"/><line x1="1330.7" y1="369.5" x2="1325.1" y2="382.6" stroke="#9acf80" stroke-width="2.3" stroke-linecap="round" stroke-opacity="0.6"/><line x1="1325.1" y1="382.6" x2="1332.0" y2="391.6" stroke="#9acf80" stroke-width="2.3" stroke-linecap="round" stroke-opacity="0.6"/><line x1="1332.0" y1="391.6" x2="1338.9" y2="400.5" stroke="#9acf80" stroke-width="2.3" stroke-linecap="round" stroke-opacity="0.6"/><line x1="1338.9" y1="400.5" x2="1356.8" y2="395.0" stroke="#9acf80" stroke-width="2.3" stroke-linecap="round" stroke-opacity="0.6"/><line x1="1356.8" y1="395.0" x2="1374.8" y2="389.5" stroke="#9acf80" stroke-width="2.3" stroke-linecap="round" stroke-opacity="0.6"/><line x1="1374.8" y1="389.5" x2="1381.0" y2="376.4" stroke="#9acf80" stroke-width="2.3" stroke-linecap="round" stroke-opacity="0.6"/><line x1="1381.0" y1="376.4" x2="1387.2" y2="363.3" stroke="#9acf80" stroke-width="2.3" stroke-linecap="round" stroke-opacity="0.6"/><line x1="1387.2" y1="363.3" x2="1379.6" y2="355.1" stroke="#9acf80" stroke-width="2.3" stroke-linecap="round" stroke-opacity="0.6"/><line x1="1379.6" y1="355.1" x2="1372.0" y2="346.8" stroke="#9acf80" stroke-width="2.3" stroke-linecap="round" stroke-opacity="0.6"/><line x1="1355.5" y1="373.0" x2="1371.3" y2="370.2" stroke="#9acf80" stroke-width="2.3" stroke-linecap="round" stroke-opacity="0.6"/><line x1="1371.3" y1="370.2" x2="1387.2" y2="367.5" stroke="#9acf80" stroke-width="2.3" stroke-linecap="round" stroke-opacity="0.6"/><line x1="1325.1" y1="382.6" x2="1311.3" y2="387.5" stroke="#9acf80" stroke-width="2.3" stroke-linecap="round" stroke-opacity="0.6"/><line x1="1311.3" y1="387.5" x2="1297.6" y2="392.3" stroke="#e98076" stroke-width="2.3" stroke-linecap="round" stroke-opacity="0.6"/><line x1="1297.6" y1="392.3" x2="1294.8" y2="404.0" stroke="#e98076" stroke-width="2.3" stroke-linecap="round" stroke-opacity="0.6"/><line x1="1294.8" y1="404.0" x2="1292.1" y2="415.7" stroke="#9acf80" stroke-width="2.3" stroke-linecap="round" stroke-opacity="0.6"/><line x1="1292.1" y1="415.7" x2="1307.2" y2="420.5" stroke="#9acf80" stroke-width="2.3" stroke-linecap="round" stroke-opacity="0.6"/><line x1="1307.2" y1="420.5" x2="1322.4" y2="425.3" stroke="#e98076" stroke-width="2.3" stroke-linecap="round" stroke-opacity="0.6"/><line x1="1322.4" y1="425.3" x2="1330.7" y2="412.9" stroke="#e98076" stroke-width="2.3" stroke-linecap="round" stroke-opacity="0.6"/><line x1="1330.7" y1="412.9" x2="1338.9" y2="400.5" stroke="#9acf80" stroke-width="2.3" stroke-linecap="round" stroke-opacity="0.6"/></g><circle cx="1421" cy="208" r="3.6" fill="#222"/></g>
</g>
<ellipse cx="1430.5" cy="308.0" rx="312.5" ry="306.0" fill="none" stroke="#5a5f60" stroke-width="1.3"/>
<text x="1250.0" y="140.3" font-size="28" fill="#000" >K297</text>
<text x="1186.5" y="217.1" font-size="28" fill="#000" >I310</text>
<text x="1139.7" y="302.3" font-size="28" fill="#000" >Y295</text>
<text x="1209.9" y="385.8" font-size="28" fill="#000" >V312</text>
<text x="1630.7" y="297.3" font-size="28" fill="#000" >F88</text>
<text x="1490.0" y="411.6" font-size="28" fill="#000" >M105</text>
<text x="1400.2" y="460.9" font-size="28" fill="#000" >F103</text>
<text x="1269.0" y="563.0" font-size="28" fill="#000" >F95</text>
<text x="1465.9" y="538.9" font-size="28" fill="#000" >P96</text>
<text x="1463.2" y="163.7" font-size="26.5" fill="#cf6410" text-anchor="middle">PCP1</text>
<text x="1463.2" y="197.1" font-size="26.5" fill="#cf6410" text-anchor="middle">site</text>
<rect x="1444.1" y="308.1" width="142.6" height="29.3" fill="#00dc00"/>
<text x="1450.0" y="335.9" font-size="28" fill="#1a5a1a" transform="translate(1,1)" fill-opacity="0.5">PSFL1191</text>
<text x="1450.0" y="335.9" font-size="28" fill="#ffffff" >PSFL1191</text>
<g>
<rect x="113.85" y="670" width="23.9" height="301.4" fill="#addfad"/>
<rect x="142.13" y="670" width="23.9" height="301.4" fill="#addfad"/>
<rect x="170.41" y="680.96" width="23.9" height="290.44" fill="#addfad"/>
<rect x="198.69" y="683.7" width="23.9" height="287.7" fill="#addfad"/>
<rect x="226.97" y="686.44" width="23.9" height="284.96" fill="#addfad"/>
<rect x="255.25" y="691.92" width="23.9" height="279.48" fill="#addfad"/>
<rect x="283.53" y="694.66" width="23.9" height="276.74" fill="#addfad"/>
<rect x="311.81" y="702.88" width="23.9" height="268.52" fill="#addfad"/>
<rect x="340.09" y="705.62" width="23.9" height="265.78" fill="#addfad"/>
<rect x="368.37" y="716.58" width="23.9" height="254.82" fill="#addfad"/>
<rect x="396.65" y="735.76" width="23.9" height="235.64" fill="#addfad"/>
<rect x="424.93" y="735.76" width="23.9" height="235.64" fill="#addfad"/>
<rect x="453.21" y="735.76" width="23.9" height="235.64" fill="#addfad"/>
<rect x="481.49" y="741.24" width="23.9" height="230.16" fill="#addfad"/>
<rect x="509.77" y="741.24" width="23.9" height="230.16" fill="#addfad"/>
<rect x="538.05" y="749.46" width="23.9" height="221.94" fill="#addfad"/>
<rect x="566.33" y="771.38" width="23.9" height="200.02" fill="#addfad"/>
<rect x="594.61" y="776.86" width="23.9" height="194.54" fill="#addfad"/>
<rect x="622.89" y="793.3" width="23.9" height="178.1" fill="#addfad"/>
<rect x="651.17" y="801.52" width="23.9" height="169.88" fill="#addfad"/>
<rect x="679.45" y="804.26" width="23.9" height="167.14" fill="#addfad"/>
<rect x="707.73" y="831.66" width="23.9" height="139.74" fill="#addfad"/>
<rect x="736.01" y="853.58" width="23.9" height="117.82" fill="#addfad"/>
<rect x="764.29" y="853.58" width="23.9" height="117.82" fill="#addfad"/>
<rect x="792.57" y="856.32" width="23.9" height="115.08" fill="#addfad"/>
<rect x="820.85" y="856.32" width="23.9" height="115.08" fill="#addfad"/>
<rect x="102.6" y="669.8" width="755.6" height="301.6" fill="none" stroke="#000" stroke-width="1.8"/>
<line x1="90.6" y1="944" x2="102.6" y2="944" stroke="#000" stroke-width="1.8" stroke-linecap="butt"/>
<text x="87.1" y="944" dy="0.358em" font-size="29" text-anchor="end">0.0</text>
<line x1="90.6" y1="889.2" x2="102.6" y2="889.2" stroke="#000" stroke-width="1.8" stroke-linecap="butt"/>
<text x="87.1" y="889.2" dy="0.358em" font-size="29" text-anchor="end">0.2</text>
<line x1="90.6" y1="834.4" x2="102.6" y2="834.4" stroke="#000" stroke-width="1.8" stroke-linecap="butt"/>
<text x="87.1" y="834.4" dy="0.358em" font-size="29" text-anchor="end">0.4</text>
<line x1="90.6" y1="779.6" x2="102.6" y2="779.6" stroke="#000" stroke-width="1.8" stroke-linecap="butt"/>
<text x="87.1" y="779.6" dy="0.358em" font-size="29" text-anchor="end">0.6</text>
<line x1="90.6" y1="724.8" x2="102.6" y2="724.8" stroke="#000" stroke-width="1.8" stroke-linecap="butt"/>
<text x="87.1" y="724.8" dy="0.358em" font-size="29" text-anchor="end">0.8</text>
<line x1="90.6" y1="670" x2="102.6" y2="670" stroke="#000" stroke-width="1.8" stroke-linecap="butt"/>
<text x="87.1" y="670" dy="0.358em" font-size="29" text-anchor="end">1.0</text>
<line x1="125.8" y1="971.4" x2="125.8" y2="983.4" stroke="#000" stroke-width="1.8" stroke-linecap="butt"/>
<text transform="translate(134.8,986.7) rotate(-90)" font-size="29.0" text-anchor="end">PSFL1632</text>
<line x1="154.08" y1="971.4" x2="154.08" y2="983.4" stroke="#000" stroke-width="1.8" stroke-linecap="butt"/>
<text transform="translate(163.08,986.7) rotate(-90)" font-size="29.0" text-anchor="end">PSFL1633</text>
<line x1="182.36" y1="971.4" x2="182.36" y2="983.4" stroke="#000" stroke-width="1.8" stroke-linecap="butt"/>
<text transform="translate(191.36,986.7) rotate(-90)" font-size="29.0" text-anchor="end">PSFL1615</text>
<line x1="210.64" y1="971.4" x2="210.64" y2="983.4" stroke="#000" stroke-width="1.8" stroke-linecap="butt"/>
<text transform="translate(219.64,986.7) rotate(-90)" font-size="29.0" text-anchor="end">PSFL1631</text>
<line x1="238.92" y1="971.4" x2="238.92" y2="983.4" stroke="#000" stroke-width="1.8" stroke-linecap="butt"/>
<text transform="translate(247.92,986.7) rotate(-90)" font-size="29.0" text-anchor="end">PSFL1662</text>
<line x1="267.2" y1="971.4" x2="267.2" y2="983.4" stroke="#000" stroke-width="1.8" stroke-linecap="butt"/>
<text transform="translate(276.2,986.7) rotate(-90)" font-size="29.0" text-anchor="end">PSFL1609</text>
<line x1="295.48" y1="971.4" x2="295.48" y2="983.4" stroke="#000" stroke-width="1.8" stroke-linecap="butt"/>
<text transform="translate(304.48,986.7) rotate(-90)" font-size="29.0" text-anchor="end">PSFL1611</text>
<line x1="323.76" y1="971.4" x2="323.76" y2="983.4" stroke="#000" stroke-width="1.8" stroke-linecap="butt"/>
<text transform="translate(332.76,986.7) rotate(-90)" font-size="29.0" text-anchor="end">PSFL1639</text>
<line x1="352.04" y1="971.4" x2="352.04" y2="983.4" stroke="#000" stroke-width="1.8" stroke-linecap="butt"/>
<text transform="translate(361.04,986.7) rotate(-90)" font-size="29.0" text-anchor="end">PSFL1645</text>
<line x1="380.32" y1="971.4" x2="380.32" y2="983.4" stroke="#000" stroke-width="1.8" stroke-linecap="butt"/>
<text transform="translate(389.32,986.7) rotate(-90)" font-size="29.0" text-anchor="end">PSFL1663</text>
<line x1="408.6" y1="971.4" x2="408.6" y2="983.4" stroke="#000" stroke-width="1.8" stroke-linecap="butt"/>
<text transform="translate(417.6,986.7) rotate(-90)" font-size="29.0" text-anchor="end">PSFL1661</text>
<line x1="436.88" y1="971.4" x2="436.88" y2="983.4" stroke="#000" stroke-width="1.8" stroke-linecap="butt"/>
<text transform="translate(445.88,986.7) rotate(-90)" font-size="29.0" text-anchor="end">PSFL1641</text>
<line x1="465.16" y1="971.4" x2="465.16" y2="983.4" stroke="#000" stroke-width="1.8" stroke-linecap="butt"/>
<text transform="translate(474.16,986.7) rotate(-90)" font-size="29.0" text-anchor="end">PSFL1641</text>
<line x1="493.44" y1="971.4" x2="493.44" y2="983.4" stroke="#000" stroke-width="1.8" stroke-linecap="butt"/>
<text transform="translate(502.44,986.7) rotate(-90)" font-size="29.0" text-anchor="end">PSFL1612</text>
<line x1="521.72" y1="971.4" x2="521.72" y2="983.4" stroke="#000" stroke-width="1.8" stroke-linecap="butt"/>
<text transform="translate(530.72,986.7) rotate(-90)" font-size="29.0" text-anchor="end">PSFL1640</text>
<line x1="550" y1="971.4" x2="550" y2="983.4" stroke="#000" stroke-width="1.8" stroke-linecap="butt"/>
<text transform="translate(559,986.7) rotate(-90)" font-size="29.0" text-anchor="end">PSFL1613</text>
<line x1="578.28" y1="971.4" x2="578.28" y2="983.4" stroke="#000" stroke-width="1.8" stroke-linecap="butt"/>
<text transform="translate(587.28,986.7) rotate(-90)" font-size="29.0" text-anchor="end">PSFL1650</text>
<line x1="606.56" y1="971.4" x2="606.56" y2="983.4" stroke="#000" stroke-width="1.8" stroke-linecap="butt"/>
<text transform="translate(615.56,986.7) rotate(-90)" font-size="29.0" text-anchor="end">PSFL1628</text>
<line x1="634.84" y1="971.4" x2="634.84" y2="983.4" stroke="#000" stroke-width="1.8" stroke-linecap="butt"/>
<text transform="translate(643.84,986.7) rotate(-90)" font-size="29.0" text-anchor="end">PSFL1630</text>
<line x1="663.12" y1="971.4" x2="663.12" y2="983.4" stroke="#000" stroke-width="1.8" stroke-linecap="butt"/>
<text transform="translate(672.12,986.7) rotate(-90)" font-size="29.0" text-anchor="end">PSFL1619</text>
<line x1="691.4" y1="971.4" x2="691.4" y2="983.4" stroke="#000" stroke-width="1.8" stroke-linecap="butt"/>
<text transform="translate(700.4,986.7) rotate(-90)" font-size="29.0" text-anchor="end">PSFL1652</text>
<line x1="719.68" y1="971.4" x2="719.68" y2="983.4" stroke="#000" stroke-width="1.8" stroke-linecap="butt"/>
<text transform="translate(728.68,986.7) rotate(-90)" font-size="29.0" text-anchor="end">PSFL1637</text>
<line x1="747.96" y1="971.4" x2="747.96" y2="983.4" stroke="#000" stroke-width="1.8" stroke-linecap="butt"/>
<text transform="translate(756.96,986.7) rotate(-90)" font-size="29.0" text-anchor="end">PSFL1614</text>
<line x1="776.24" y1="971.4" x2="776.24" y2="983.4" stroke="#000" stroke-width="1.8" stroke-linecap="butt"/>
<text transform="translate(785.24,986.7) rotate(-90)" font-size="29.0" text-anchor="end">PSFL1644</text>
<line x1="804.52" y1="971.4" x2="804.52" y2="983.4" stroke="#000" stroke-width="1.8" stroke-linecap="butt"/>
<text transform="translate(813.52,986.7) rotate(-90)" font-size="29.0" text-anchor="end">PSFL1620</text>
<line x1="832.8" y1="971.4" x2="832.8" y2="983.4" stroke="#000" stroke-width="1.8" stroke-linecap="butt"/>
<text transform="translate(841.8,986.7) rotate(-90)" font-size="29.0" text-anchor="end">PSFL1624</text>
<text transform="translate(31,817) rotate(-90)" font-size="28.0" text-anchor="middle">Inhibition rate</text>
</g>
<g>
<rect x="119.6" y="1143.94" width="24.8" height="134.06" fill="#addfad"/>
<rect x="149.03" y="1144.68" width="24.8" height="133.32" fill="#addfad"/>
<rect x="178.46" y="1147.62" width="24.8" height="130.38" fill="#addfad"/>
<rect x="207.89" y="1150.18" width="24.8" height="127.82" fill="#addfad"/>
<rect x="237.32" y="1160.09" width="24.8" height="117.91" fill="#addfad"/>
<rect x="266.75" y="1165.6" width="24.8" height="112.4" fill="#addfad"/>
<rect x="296.18" y="1166.7" width="24.8" height="111.3" fill="#addfad"/>
<rect x="325.61" y="1168.53" width="24.8" height="109.47" fill="#addfad"/>
<rect x="355.04" y="1174.04" width="24.8" height="103.96" fill="#addfad"/>
<rect x="384.47" y="1197.89" width="24.8" height="80.11" fill="#addfad"/>
<rect x="413.9" y="1198.63" width="24.8" height="79.37" fill="#addfad"/>
<rect x="443.33" y="1205.23" width="24.8" height="72.77" fill="#addfad"/>
<rect x="472.76" y="1209.27" width="24.8" height="68.73" fill="#addfad"/>
<rect x="502.19" y="1211.47" width="24.8" height="66.53" fill="#addfad"/>
<rect x="531.62" y="1214.78" width="24.8" height="63.22" fill="#addfad"/>
<rect x="561.05" y="1214.78" width="24.8" height="63.22" fill="#addfad"/>
<rect x="590.48" y="1217.35" width="24.8" height="60.65" fill="#addfad"/>
<rect x="619.91" y="1221.75" width="24.8" height="56.25" fill="#addfad"/>
<rect x="649.34" y="1222.85" width="24.8" height="55.15" fill="#addfad"/>
<rect x="678.77" y="1225.79" width="24.8" height="52.21" fill="#addfad"/>
<rect x="708.2" y="1234.23" width="24.8" height="43.77" fill="#addfad"/>
<rect x="737.63" y="1234.23" width="24.8" height="43.77" fill="#addfad"/>
<rect x="767.06" y="1236.8" width="24.8" height="41.2" fill="#addfad"/>
<rect x="796.49" y="1241.2" width="24.8" height="36.8" fill="#addfad"/>
<rect x="825.92" y="1241.2" width="24.8" height="36.8" fill="#addfad"/>
<rect x="107.4" y="1131" width="757.8" height="147" fill="none" stroke="#000" stroke-width="1.8"/>
<line x1="95.4" y1="1241.2" x2="107.4" y2="1241.2" stroke="#000" stroke-width="1.8" stroke-linecap="butt"/>
<text x="91.9" y="1241.2" dy="0.358em" font-size="29" text-anchor="end">0.0</text>
<line x1="95.4" y1="1204.5" x2="107.4" y2="1204.5" stroke="#000" stroke-width="1.8" stroke-linecap="butt"/>
<text x="91.9" y="1204.5" dy="0.358em" font-size="29" text-anchor="end">0.1</text>
<line x1="95.4" y1="1167.8" x2="107.4" y2="1167.8" stroke="#000" stroke-width="1.8" stroke-linecap="butt"/>
<text x="91.9" y="1167.8" dy="0.358em" font-size="29" text-anchor="end">0.2</text>
<line x1="95.4" y1="1131.1" x2="107.4" y2="1131.1" stroke="#000" stroke-width="1.8" stroke-linecap="butt"/>
<text x="91.9" y="1131.1" dy="0.358em" font-size="29" text-anchor="end">0.3</text>
<line x1="132" y1="1278" x2="132" y2="1290" stroke="#000" stroke-width="1.8" stroke-linecap="butt"/>
<text transform="translate(141.3,1293) rotate(-90)" font-size="28.6" text-anchor="end">PSFL1618</text>
<line x1="161.43" y1="1278" x2="161.43" y2="1290" stroke="#000" stroke-width="1.8" stroke-linecap="butt"/>
<text transform="translate(170.73,1293) rotate(-90)" font-size="28.6" text-anchor="end">PSFL1664</text>
<line x1="190.86" y1="1278" x2="190.86" y2="1290" stroke="#000" stroke-width="1.8" stroke-linecap="butt"/>
<text transform="translate(200.16,1293) rotate(-90)" font-size="28.6" text-anchor="end">PSFL1649</text>
<line x1="220.29" y1="1278" x2="220.29" y2="1290" stroke="#000" stroke-width="1.8" stroke-linecap="butt"/>
<text transform="translate(229.59,1293) rotate(-90)" font-size="28.6" text-anchor="end">PSFL1627</text>
<line x1="249.72" y1="1278" x2="249.72" y2="1290" stroke="#000" stroke-width="1.8" stroke-linecap="butt"/>
<text transform="translate(259.02,1293) rotate(-90)" font-size="28.6" text-anchor="end">PSFL1634</text>
<line x1="279.15" y1="1278" x2="279.15" y2="1290" stroke="#000" stroke-width="1.8" stroke-linecap="butt"/>
<text transform="translate(288.45,1293) rotate(-90)" font-size="28.6" text-anchor="end">PSFL1622</text>
<line x1="308.58" y1="1278" x2="308.58" y2="1290" stroke="#000" stroke-width="1.8" stroke-linecap="butt"/>
<text transform="translate(317.88,1293) rotate(-90)" font-size="28.6" text-anchor="end">PSFL1621</text>
<line x1="338.01" y1="1278" x2="338.01" y2="1290" stroke="#000" stroke-width="1.8" stroke-linecap="butt"/>
<text transform="translate(347.31,1293) rotate(-90)" font-size="28.6" text-anchor="end">PSFL1651</text>
<line x1="367.44" y1="1278" x2="367.44" y2="1290" stroke="#000" stroke-width="1.8" stroke-linecap="butt"/>
<text transform="translate(376.74,1293) rotate(-90)" font-size="28.6" text-anchor="end">PSFL1638</text>
<line x1="396.87" y1="1278" x2="396.87" y2="1290" stroke="#000" stroke-width="1.8" stroke-linecap="butt"/>
<text transform="translate(406.17,1293) rotate(-90)" font-size="28.6" text-anchor="end">PSFL1654</text>
<line x1="426.3" y1="1278" x2="426.3" y2="1290" stroke="#000" stroke-width="1.8" stroke-linecap="butt"/>
<text transform="translate(435.6,1293) rotate(-90)" font-size="28.6" text-anchor="end">PSFL1659</text>
<line x1="455.73" y1="1278" x2="455.73" y2="1290" stroke="#000" stroke-width="1.8" stroke-linecap="butt"/>
<text transform="translate(465.03,1293) rotate(-90)" font-size="28.6" text-anchor="end">PSFL1648</text>
<line x1="485.16" y1="1278" x2="485.16" y2="1290" stroke="#000" stroke-width="1.8" stroke-linecap="butt"/>
<text transform="translate(494.46,1293) rotate(-90)" font-size="28.6" text-anchor="end">PSFL1626</text>
<line x1="514.59" y1="1278" x2="514.59" y2="1290" stroke="#000" stroke-width="1.8" stroke-linecap="butt"/>
<text transform="translate(523.89,1293) rotate(-90)" font-size="28.6" text-anchor="end">PSFL1635</text>
<line x1="544.02" y1="1278" x2="544.02" y2="1290" stroke="#000" stroke-width="1.8" stroke-linecap="butt"/>
<text transform="translate(553.32,1293) rotate(-90)" font-size="28.6" text-anchor="end">PSFL1636</text>
<line x1="573.45" y1="1278" x2="573.45" y2="1290" stroke="#000" stroke-width="1.8" stroke-linecap="butt"/>
<text transform="translate(582.75,1293) rotate(-90)" font-size="28.6" text-anchor="end">PSFL1623</text>
<line x1="602.88" y1="1278" x2="602.88" y2="1290" stroke="#000" stroke-width="1.8" stroke-linecap="butt"/>
<text transform="translate(612.18,1293) rotate(-90)" font-size="28.6" text-anchor="end">PSFL1646</text>
<line x1="632.31" y1="1278" x2="632.31" y2="1290" stroke="#000" stroke-width="1.8" stroke-linecap="butt"/>
<text transform="translate(641.61,1293) rotate(-90)" font-size="28.6" text-anchor="end">PSFL1647</text>
<line x1="661.74" y1="1278" x2="661.74" y2="1290" stroke="#000" stroke-width="1.8" stroke-linecap="butt"/>
<text transform="translate(671.04,1293) rotate(-90)" font-size="28.6" text-anchor="end">PSFL1660</text>
<line x1="691.17" y1="1278" x2="691.17" y2="1290" stroke="#000" stroke-width="1.8" stroke-linecap="butt"/>
<text transform="translate(700.47,1293) rotate(-90)" font-size="28.6" text-anchor="end">PSFL1625</text>
<line x1="720.6" y1="1278" x2="720.6" y2="1290" stroke="#000" stroke-width="1.8" stroke-linecap="butt"/>
<text transform="translate(729.9,1293) rotate(-90)" font-size="28.6" text-anchor="end">PSFL1655</text>
<line x1="750.03" y1="1278" x2="750.03" y2="1290" stroke="#000" stroke-width="1.8" stroke-linecap="butt"/>
<text transform="translate(759.33,1293) rotate(-90)" font-size="28.6" text-anchor="end">PSFL1653</text>
<line x1="779.46" y1="1278" x2="779.46" y2="1290" stroke="#000" stroke-width="1.8" stroke-linecap="butt"/>
<text transform="translate(788.76,1293) rotate(-90)" font-size="28.6" text-anchor="end">PSFL1657</text>
<line x1="808.89" y1="1278" x2="808.89" y2="1290" stroke="#000" stroke-width="1.8" stroke-linecap="butt"/>
<text transform="translate(818.19,1293) rotate(-90)" font-size="28.6" text-anchor="end">PSFL1617</text>
<line x1="838.32" y1="1278" x2="838.32" y2="1290" stroke="#000" stroke-width="1.8" stroke-linecap="butt"/>
<text transform="translate(847.62,1293) rotate(-90)" font-size="28.6" text-anchor="end">PSFL1656</text>
<text transform="translate(36,1201) rotate(-90)" font-size="27.6" text-anchor="middle">Inhibition rate</text>
</g>
<g>
<rect x="1081.4" y="737.54" width="21.8" height="540.46" fill="#addfad"/>
<rect x="1107.7" y="784.85" width="21.8" height="493.15" fill="#addfad"/>
<rect x="1134" y="784.85" width="21.8" height="493.15" fill="#addfad"/>
<rect x="1160.3" y="859.18" width="21.8" height="418.82" fill="#addfad"/>
<rect x="1186.6" y="906.49" width="21.8" height="371.51" fill="#addfad"/>
<rect x="1212.9" y="920.01" width="21.8" height="357.99" fill="#addfad"/>
<rect x="1239.2" y="1007.86" width="21.8" height="270.14" fill="#addfad"/>
<rect x="1265.5" y="1156.54" width="21.8" height="121.46" fill="#addfad"/>
<rect x="1291.8" y="1163.29" width="21.8" height="114.71" fill="#addfad"/>
<rect x="1318.1" y="1163.29" width="21.8" height="114.71" fill="#addfad"/>
<rect x="1344.4" y="1170.05" width="21.8" height="107.95" fill="#addfad"/>
<rect x="1370.7" y="1183.57" width="21.8" height="94.43" fill="#addfad"/>
<rect x="1397" y="1197.08" width="21.8" height="80.92" fill="#addfad"/>
<rect x="1423.3" y="1210.6" width="21.8" height="67.4" fill="#addfad"/>
<rect x="1449.6" y="1210.6" width="21.8" height="67.4" fill="#addfad"/>
<rect x="1475.9" y="1210.6" width="21.8" height="67.4" fill="#addfad"/>
<rect x="1502.2" y="1210.6" width="21.8" height="67.4" fill="#addfad"/>
<rect x="1528.5" y="1210.6" width="21.8" height="67.4" fill="#addfad"/>
<rect x="1554.8" y="1210.6" width="21.8" height="67.4" fill="#addfad"/>
<rect x="1581.1" y="1210.6" width="21.8" height="67.4" fill="#addfad"/>
<rect x="1607.4" y="1210.6" width="21.8" height="67.4" fill="#addfad"/>
<rect x="1633.7" y="1210.6" width="21.8" height="67.4" fill="#addfad"/>
<rect x="1660" y="1210.6" width="21.8" height="67.4" fill="#addfad"/>
<rect x="1686.3" y="1210.6" width="21.8" height="67.4" fill="#addfad"/>
<rect x="1712.6" y="1210.6" width="21.8" height="67.4" fill="#addfad"/>
<rect x="1738.9" y="1210.6" width="21.8" height="67.4" fill="#addfad"/>
<rect x="1765.2" y="1210.6" width="21.8" height="67.4" fill="#addfad"/>
<rect x="1791.5" y="1210.6" width="21.8" height="67.4" fill="#addfad"/>
<rect x="1070.7" y="670" width="756.6" height="608" fill="none" stroke="#000" stroke-width="1.8"/>
<line x1="1058.7" y1="1210.6" x2="1070.7" y2="1210.6" stroke="#000" stroke-width="1.8" stroke-linecap="butt"/>
<text x="1055.2" y="1210.6" dy="0.358em" font-size="29" text-anchor="end">0.0</text>
<line x1="1058.7" y1="1075.44" x2="1070.7" y2="1075.44" stroke="#000" stroke-width="1.8" stroke-linecap="butt"/>
<text x="1055.2" y="1075.44" dy="0.358em" font-size="29" text-anchor="end">0.2</text>
<line x1="1058.7" y1="940.28" x2="1070.7" y2="940.28" stroke="#000" stroke-width="1.8" stroke-linecap="butt"/>
<text x="1055.2" y="940.28" dy="0.358em" font-size="29" text-anchor="end">0.4</text>
<line x1="1058.7" y1="805.12" x2="1070.7" y2="805.12" stroke="#000" stroke-width="1.8" stroke-linecap="butt"/>
<text x="1055.2" y="805.12" dy="0.358em" font-size="29" text-anchor="end">0.6</text>
<line x1="1058.7" y1="669.96" x2="1070.7" y2="669.96" stroke="#000" stroke-width="1.8" stroke-linecap="butt"/>
<text x="1055.2" y="669.96" dy="0.358em" font-size="29" text-anchor="end">0.8</text>
<line x1="1064.2" y1="1143.02" x2="1070.7" y2="1143.02" stroke="#000" stroke-width="1.8" stroke-linecap="butt"/>
<line x1="1064.2" y1="1007.86" x2="1070.7" y2="1007.86" stroke="#000" stroke-width="1.8" stroke-linecap="butt"/>
<line x1="1064.2" y1="872.7" x2="1070.7" y2="872.7" stroke="#000" stroke-width="1.8" stroke-linecap="butt"/>
<line x1="1064.2" y1="737.54" x2="1070.7" y2="737.54" stroke="#000" stroke-width="1.8" stroke-linecap="butt"/>
<line x1="1092.3" y1="1278" x2="1092.3" y2="1290" stroke="#000" stroke-width="1.8" stroke-linecap="butt"/>
<text transform="translate(1103.5,1295.1) rotate(-90)" font-size="29.2" text-anchor="end">PSFL2780</text>
<line x1="1118.6" y1="1278" x2="1118.6" y2="1290" stroke="#000" stroke-width="1.8" stroke-linecap="butt"/>
<text transform="translate(1129.8,1295.1) rotate(-90)" font-size="29.2" text-anchor="end">PSFL2763</text>
<line x1="1144.9" y1="1278" x2="1144.9" y2="1290" stroke="#000" stroke-width="1.8" stroke-linecap="butt"/>
<text transform="translate(1156.1,1295.1) rotate(-90)" font-size="29.2" text-anchor="end">PSFL2783</text>
<line x1="1171.2" y1="1278" x2="1171.2" y2="1290" stroke="#000" stroke-width="1.8" stroke-linecap="butt"/>
<text transform="translate(1182.4,1295.1) rotate(-90)" font-size="29.2" text-anchor="end">PSFL2787</text>
<line x1="1197.5" y1="1278" x2="1197.5" y2="1290" stroke="#000" stroke-width="1.8" stroke-linecap="butt"/>
<text transform="translate(1208.7,1295.1) rotate(-90)" font-size="29.2" text-anchor="end">PSFL2784</text>
<line x1="1223.8" y1="1278" x2="1223.8" y2="1290" stroke="#000" stroke-width="1.8" stroke-linecap="butt"/>
<text transform="translate(1235,1295.1) rotate(-90)" font-size="29.2" text-anchor="end">PSFL2779</text>
<line x1="1250.1" y1="1278" x2="1250.1" y2="1290" stroke="#000" stroke-width="1.8" stroke-linecap="butt"/>
<text transform="translate(1261.3,1295.1) rotate(-90)" font-size="29.2" text-anchor="end">PSFL2775</text>
<line x1="1276.4" y1="1278" x2="1276.4" y2="1290" stroke="#000" stroke-width="1.8" stroke-linecap="butt"/>
<text transform="translate(1287.6,1295.1) rotate(-90)" font-size="29.2" text-anchor="end">PSFL2774</text>
<line x1="1302.7" y1="1278" x2="1302.7" y2="1290" stroke="#000" stroke-width="1.8" stroke-linecap="butt"/>
<text transform="translate(1313.9,1295.1) rotate(-90)" font-size="29.2" text-anchor="end">PSFL2772</text>
<line x1="1329" y1="1278" x2="1329" y2="1290" stroke="#000" stroke-width="1.8" stroke-linecap="butt"/>
<text transform="translate(1340.2,1295.1) rotate(-90)" font-size="29.2" text-anchor="end">PSFL2777</text>
<line x1="1355.3" y1="1278" x2="1355.3" y2="1290" stroke="#000" stroke-width="1.8" stroke-linecap="butt"/>
<text transform="translate(1366.5,1295.1) rotate(-90)" font-size="29.2" text-anchor="end">PSFL2788</text>
<line x1="1381.6" y1="1278" x2="1381.6" y2="1290" stroke="#000" stroke-width="1.8" stroke-linecap="butt"/>
<text transform="translate(1392.8,1295.1) rotate(-90)" font-size="29.2" text-anchor="end">PSFL2778</text>
<line x1="1407.9" y1="1278" x2="1407.9" y2="1290" stroke="#000" stroke-width="1.8" stroke-linecap="butt"/>
<text transform="translate(1419.1,1295.1) rotate(-90)" font-size="29.2" text-anchor="end">PSFL2781</text>
<line x1="1434.2" y1="1278" x2="1434.2" y2="1290" stroke="#000" stroke-width="1.8" stroke-linecap="butt"/>
<text transform="translate(1445.4,1295.1) rotate(-90)" font-size="29.2" text-anchor="end">PSFL2762</text>
<line x1="1460.5" y1="1278" x2="1460.5" y2="1290" stroke="#000" stroke-width="1.8" stroke-linecap="butt"/>
<text transform="translate(1471.7,1295.1) rotate(-90)" font-size="29.2" text-anchor="end">PSFL2764</text>
<line x1="1486.8" y1="1278" x2="1486.8" y2="1290" stroke="#000" stroke-width="1.8" stroke-linecap="butt"/>
<text transform="translate(1498,1295.1) rotate(-90)" font-size="29.2" text-anchor="end">PSFL2765</text>
<line x1="1513.1" y1="1278" x2="1513.1" y2="1290" stroke="#000" stroke-width="1.8" stroke-linecap="butt"/>
<text transform="translate(1524.3,1295.1) rotate(-90)" font-size="29.2" text-anchor="end">PSFL2766</text>
<line x1="1539.4" y1="1278" x2="1539.4" y2="1290" stroke="#000" stroke-width="1.8" stroke-linecap="butt"/>
<text transform="translate(1550.6,1295.1) rotate(-90)" font-size="29.2" text-anchor="end">PSFL2767</text>
<line x1="1565.7" y1="1278" x2="1565.7" y2="1290" stroke="#000" stroke-width="1.8" stroke-linecap="butt"/>
<text transform="translate(1576.9,1295.1) rotate(-90)" font-size="29.2" text-anchor="end">PSFL2768</text>
<line x1="1592" y1="1278" x2="1592" y2="1290" stroke="#000" stroke-width="1.8" stroke-linecap="butt"/>
<text transform="translate(1603.2,1295.1) rotate(-90)" font-size="29.2" text-anchor="end">PSFL2769</text>
<line x1="1618.3" y1="1278" x2="1618.3" y2="1290" stroke="#000" stroke-width="1.8" stroke-linecap="butt"/>
<text transform="translate(1629.5,1295.1) rotate(-90)" font-size="29.2" text-anchor="end">PSFL2770</text>
<line x1="1644.6" y1="1278" x2="1644.6" y2="1290" stroke="#000" stroke-width="1.8" stroke-linecap="butt"/>
<text transform="translate(1655.8,1295.1) rotate(-90)" font-size="29.2" text-anchor="end">PSFL2771</text>
<line x1="1670.9" y1="1278" x2="1670.9" y2="1290" stroke="#000" stroke-width="1.8" stroke-linecap="butt"/>
<text transform="translate(1682.1,1295.1) rotate(-90)" font-size="29.2" text-anchor="end">PSFL2773</text>
<line x1="1697.2" y1="1278" x2="1697.2" y2="1290" stroke="#000" stroke-width="1.8" stroke-linecap="butt"/>
<text transform="translate(1708.4,1295.1) rotate(-90)" font-size="29.2" text-anchor="end">PSFL2776</text>
<line x1="1723.5" y1="1278" x2="1723.5" y2="1290" stroke="#000" stroke-width="1.8" stroke-linecap="butt"/>
<text transform="translate(1734.7,1295.1) rotate(-90)" font-size="29.2" text-anchor="end">PSFL2782</text>
<line x1="1749.8" y1="1278" x2="1749.8" y2="1290" stroke="#000" stroke-width="1.8" stroke-linecap="butt"/>
<text transform="translate(1761,1295.1) rotate(-90)" font-size="29.2" text-anchor="end">PSFL2785</text>
<line x1="1776.1" y1="1278" x2="1776.1" y2="1290" stroke="#000" stroke-width="1.8" stroke-linecap="butt"/>
<text transform="translate(1787.3,1295.1) rotate(-90)" font-size="29.2" text-anchor="end">PSFL2786</text>
<line x1="1802.4" y1="1278" x2="1802.4" y2="1290" stroke="#000" stroke-width="1.8" stroke-linecap="butt"/>
<text transform="translate(1813.6,1295.1) rotate(-90)" font-size="29.2" text-anchor="end">PSFL2789</text>
<text transform="translate(999,970.8) rotate(-90)" font-size="28.0" text-anchor="middle">Inhibition rate</text>
</g>
<g>
<path d="M156.8,1750.6 V1528.7 H223.2 V1750.6" fill="none" stroke="#bf6002" stroke-width="4.6" stroke-linejoin="miter"/>
<line x1="190" y1="1528.7" x2="190" y2="1522.7" stroke="#bf6002" stroke-width="4.2" stroke-linecap="butt"/>
<line x1="171" y1="1522.7" x2="209" y2="1522.7" stroke="#bf6002" stroke-width="4.4" stroke-linecap="round"/>
<circle cx="166.3" cy="1533.8" r="5.8" fill="none" stroke="#bf6002" stroke-width="3.2"/>
<circle cx="189.5" cy="1520.4" r="5.8" fill="none" stroke="#bf6002" stroke-width="3.2"/>
<circle cx="212.5" cy="1524.9" r="5.8" fill="none" stroke="#bf6002" stroke-width="3.2"/>
<text x="190" y="1742" font-size="22.5" text-anchor="middle">(3)</text>
<path d="M242.2,1750.6 V1591.1 H308.6 V1750.6" fill="none" stroke="#bf6002" stroke-width="4.6" stroke-linejoin="miter"/>
<line x1="275.4" y1="1591.1" x2="275.4" y2="1556.1" stroke="#bf6002" stroke-width="4.2" stroke-linecap="butt"/>
<line x1="256.4" y1="1556.1" x2="294.4" y2="1556.1" stroke="#bf6002" stroke-width="4.4" stroke-linecap="round"/>
<circle cx="275" cy="1535.7" r="5.8" fill="none" stroke="#bf6002" stroke-width="3.2"/>
<circle cx="275.3" cy="1582.9" r="5.8" fill="none" stroke="#bf6002" stroke-width="3.2"/>
<circle cx="275.3" cy="1645" r="5.8" fill="none" stroke="#bf6002" stroke-width="3.2"/>
<text x="275.4" y="1742" font-size="22.5" text-anchor="middle">(3)</text>
<path d="M327.6,1750.6 V1531 H394 V1750.6" fill="none" stroke="#bf6002" stroke-width="4.6" stroke-linejoin="miter"/>
<line x1="360.8" y1="1531" x2="360.8" y2="1522.6" stroke="#bf6002" stroke-width="4.2" stroke-linecap="butt"/>
<line x1="341.8" y1="1522.6" x2="379.8" y2="1522.6" stroke="#bf6002" stroke-width="4.4" stroke-linecap="round"/>
<circle cx="360.5" cy="1540.2" r="5.8" fill="none" stroke="#bf6002" stroke-width="3.2"/>
<circle cx="360.5" cy="1526.8" r="5.8" fill="none" stroke="#bf6002" stroke-width="3.2"/>
<circle cx="383.4" cy="1518.9" r="5.8" fill="none" stroke="#bf6002" stroke-width="3.2"/>
<text x="360.8" y="1742" font-size="22.5" text-anchor="middle">(3)</text>
<path d="M413,1750.6 V1527.5 H479.4 V1750.6" fill="none" stroke="#bf6002" stroke-width="4.6" stroke-linejoin="miter"/>
<line x1="446.2" y1="1527.5" x2="446.2" y2="1521.5" stroke="#bf6002" stroke-width="4.2" stroke-linecap="butt"/>
<line x1="427.2" y1="1521.5" x2="465.2" y2="1521.5" stroke="#bf6002" stroke-width="4.4" stroke-linecap="round"/>
<circle cx="416.6" cy="1520.5" r="5.8" fill="none" stroke="#bf6002" stroke-width="3.2"/>
<circle cx="436.3" cy="1515.8" r="5.8" fill="none" stroke="#bf6002" stroke-width="3.2"/>
<circle cx="416.6" cy="1536.3" r="5.8" fill="none" stroke="#bf6002" stroke-width="3.2"/>
<circle cx="456.3" cy="1527" r="5.8" fill="none" stroke="#bf6002" stroke-width="3.2"/>
<circle cx="475.8" cy="1525.2" r="5.8" fill="none" stroke="#bf6002" stroke-width="3.2"/>
<text x="446.2" y="1742" font-size="22.5" text-anchor="middle">(5)</text>
<path d="M498.4,1750.6 V1527 H564.8 V1750.6" fill="none" stroke="#bf6002" stroke-width="4.6" stroke-linejoin="miter"/>
<line x1="531.6" y1="1527" x2="531.6" y2="1521" stroke="#bf6002" stroke-width="4.2" stroke-linecap="butt"/>
<line x1="512.6" y1="1521" x2="550.6" y2="1521" stroke="#bf6002" stroke-width="4.4" stroke-linecap="round"/>
<circle cx="501.8" cy="1515.8" r="5.8" fill="none" stroke="#bf6002" stroke-width="3.2"/>
<circle cx="501.8" cy="1530.2" r="5.8" fill="none" stroke="#bf6002" stroke-width="3.2"/>
<circle cx="521.5" cy="1518.6" r="5.8" fill="none" stroke="#bf6002" stroke-width="3.2"/>
<circle cx="541.5" cy="1527.7" r="5.8" fill="none" stroke="#bf6002" stroke-width="3.2"/>
<circle cx="561.8" cy="1527" r="5.8" fill="none" stroke="#bf6002" stroke-width="3.2"/>
<text x="531.6" y="1742" font-size="22.5" text-anchor="middle">(5)</text>
<path d="M583.8,1750.6 V1578.2 H650.2 V1750.6" fill="none" stroke="#bf6002" stroke-width="4.6" stroke-linejoin="miter"/>
<line x1="617" y1="1578.2" x2="617" y2="1570.4" stroke="#bf6002" stroke-width="4.2" stroke-linecap="butt"/>
<line x1="598" y1="1570.4" x2="636" y2="1570.4" stroke="#bf6002" stroke-width="4.4" stroke-linecap="round"/>
<circle cx="594" cy="1567.7" r="5.8" fill="none" stroke="#bf6002" stroke-width="3.2"/>
<circle cx="617.4" cy="1569" r="5.8" fill="none" stroke="#bf6002" stroke-width="3.2"/>
<circle cx="594" cy="1589" r="5.8" fill="none" stroke="#bf6002" stroke-width="3.2"/>
<circle cx="640.9" cy="1578.3" r="5.8" fill="none" stroke="#bf6002" stroke-width="3.2"/>
<text x="617" y="1742" font-size="22.5" text-anchor="middle">(4)</text>
<path d="M669.2,1750.6 V1570.3 H735.6 V1750.6" fill="none" stroke="#bf6002" stroke-width="4.6" stroke-linejoin="miter"/>
<line x1="702.4" y1="1570.3" x2="702.4" y2="1556.1" stroke="#bf6002" stroke-width="4.2" stroke-linecap="butt"/>
<line x1="683.4" y1="1556.1" x2="721.4" y2="1556.1" stroke="#bf6002" stroke-width="4.4" stroke-linecap="round"/>
<circle cx="702.6" cy="1529" r="5.8" fill="none" stroke="#bf6002" stroke-width="3.2"/>
<circle cx="702.6" cy="1552.4" r="5.8" fill="none" stroke="#bf6002" stroke-width="3.2"/>
<circle cx="702.6" cy="1580.3" r="5.8" fill="none" stroke="#bf6002" stroke-width="3.2"/>
<circle cx="679.2" cy="1591.4" r="5.8" fill="none" stroke="#bf6002" stroke-width="3.2"/>
<circle cx="725.6" cy="1584.5" r="5.8" fill="none" stroke="#bf6002" stroke-width="3.2"/>
<text x="702.4" y="1742" font-size="22.5" text-anchor="middle">(5)</text>
<path d="M754.6,1750.6 V1581.9 H821 V1750.6" fill="none" stroke="#bf6002" stroke-width="4.6" stroke-linejoin="miter"/>
<line x1="787.8" y1="1581.9" x2="787.8" y2="1569.2" stroke="#bf6002" stroke-width="4.2" stroke-linecap="butt"/>
<line x1="768.8" y1="1569.2" x2="806.8" y2="1569.2" stroke="#bf6002" stroke-width="4.4" stroke-linecap="round"/>
<circle cx="787.8" cy="1552.4" r="5.8" fill="none" stroke="#bf6002" stroke-width="3.2"/>
<circle cx="787.8" cy="1584.5" r="5.8" fill="none" stroke="#bf6002" stroke-width="3.2"/>
<circle cx="787.8" cy="1597.4" r="5.8" fill="none" stroke="#bf6002" stroke-width="3.2"/>
<circle cx="811.3" cy="1580.8" r="5.8" fill="none" stroke="#bf6002" stroke-width="3.2"/>
<text x="787.8" y="1742" font-size="22.5" text-anchor="middle">(4)</text>
<rect x="118.6" y="1474" width="741.4" height="276.6" fill="none" stroke="#000" stroke-width="1.8"/>
<line x1="106.6" y1="1729.3" x2="118.6" y2="1729.3" stroke="#000" stroke-width="1.8" stroke-linecap="butt"/>
<text x="103.1" y="1729.3" dy="0.358em" font-size="29" text-anchor="end">0.0</text>
<line x1="106.6" y1="1686.78" x2="118.6" y2="1686.78" stroke="#000" stroke-width="1.8" stroke-linecap="butt"/>
<text x="103.1" y="1686.78" dy="0.358em" font-size="29" text-anchor="end">0.2</text>
<line x1="106.6" y1="1644.26" x2="118.6" y2="1644.26" stroke="#000" stroke-width="1.8" stroke-linecap="butt"/>
<text x="103.1" y="1644.26" dy="0.358em" font-size="29" text-anchor="end">0.4</text>
<line x1="106.6" y1="1601.74" x2="118.6" y2="1601.74" stroke="#000" stroke-width="1.8" stroke-linecap="butt"/>
<text x="103.1" y="1601.74" dy="0.358em" font-size="29" text-anchor="end">0.6</text>
<line x1="106.6" y1="1559.22" x2="118.6" y2="1559.22" stroke="#000" stroke-width="1.8" stroke-linecap="butt"/>
<text x="103.1" y="1559.22" dy="0.358em" font-size="29" text-anchor="end">0.8</text>
<line x1="106.6" y1="1516.7" x2="118.6" y2="1516.7" stroke="#000" stroke-width="1.8" stroke-linecap="butt"/>
<text x="103.1" y="1516.7" dy="0.358em" font-size="29" text-anchor="end">1.0</text>
<line x1="106.6" y1="1474.18" x2="118.6" y2="1474.18" stroke="#000" stroke-width="1.8" stroke-linecap="butt"/>
<text x="103.1" y="1474.18" dy="0.358em" font-size="29" text-anchor="end">1.2</text>
<line x1="190" y1="1750.6" x2="190" y2="1762.6" stroke="#000" stroke-width="1.8" stroke-linecap="butt"/>
<text transform="translate(200.5,1766.3) rotate(-90)" font-size="28.6" text-anchor="end">PSFL1609</text>
<line x1="275.4" y1="1750.6" x2="275.4" y2="1762.6" stroke="#000" stroke-width="1.8" stroke-linecap="butt"/>
<text transform="translate(285.9,1766.3) rotate(-90)" font-size="28.6" text-anchor="end">PSFL1611</text>
<line x1="360.8" y1="1750.6" x2="360.8" y2="1762.6" stroke="#000" stroke-width="1.8" stroke-linecap="butt"/>
<text transform="translate(371.3,1766.3) rotate(-90)" font-size="28.6" text-anchor="end">PSFL1631</text>
<line x1="446.2" y1="1750.6" x2="446.2" y2="1762.6" stroke="#000" stroke-width="1.8" stroke-linecap="butt"/>
<text transform="translate(456.7,1766.3) rotate(-90)" font-size="28.6" text-anchor="end">PSFL1632</text>
<line x1="531.6" y1="1750.6" x2="531.6" y2="1762.6" stroke="#000" stroke-width="1.8" stroke-linecap="butt"/>
<text transform="translate(542.1,1766.3) rotate(-90)" font-size="28.6" text-anchor="end">PSFL1633</text>
<line x1="617" y1="1750.6" x2="617" y2="1762.6" stroke="#000" stroke-width="1.8" stroke-linecap="butt"/>
<text transform="translate(627.5,1766.3) rotate(-90)" font-size="28.6" text-anchor="end">PSFL1661</text>
<line x1="702.4" y1="1750.6" x2="702.4" y2="1762.6" stroke="#000" stroke-width="1.8" stroke-linecap="butt"/>
<text transform="translate(712.9,1766.3) rotate(-90)" font-size="28.6" text-anchor="end">PSFL1662</text>
<line x1="787.8" y1="1750.6" x2="787.8" y2="1762.6" stroke="#000" stroke-width="1.8" stroke-linecap="butt"/>
<text transform="translate(798.3,1766.3) rotate(-90)" font-size="28.6" text-anchor="end">PSFL1663</text>
<text transform="translate(49,1609) rotate(-90)" font-size="27.4" text-anchor="middle">Inhibition rate</text>
</g>
<g>
<path d="M1121.85,1755 V1576.9 H1197.75 V1755" fill="none" stroke="#bf6002" stroke-width="4.6" stroke-linejoin="miter"/>
<line x1="1159.8" y1="1576.9" x2="1159.8" y2="1561.2" stroke="#bf6002" stroke-width="4.2" stroke-linecap="butt"/>
<line x1="1138.8" y1="1561.2" x2="1180.8" y2="1561.2" stroke="#bf6002" stroke-width="4.4" stroke-linecap="round"/>
<circle cx="1159.7" cy="1564.3" r="5.8" fill="none" stroke="#bf6002" stroke-width="3.2"/>
<circle cx="1183.7" cy="1559.2" r="5.8" fill="none" stroke="#bf6002" stroke-width="3.2"/>
<circle cx="1159.7" cy="1599.6" r="5.8" fill="none" stroke="#bf6002" stroke-width="3.2"/>
<text x="1159.8" y="1745" font-size="22.5" text-anchor="middle">(3)</text>
<path d="M1219.22,1755 V1664.1 H1295.12 V1755" fill="none" stroke="#bf6002" stroke-width="4.6" stroke-linejoin="miter"/>
<line x1="1257.17" y1="1664.1" x2="1257.17" y2="1652.7" stroke="#bf6002" stroke-width="4.2" stroke-linecap="butt"/>
<line x1="1236.17" y1="1652.7" x2="1278.17" y2="1652.7" stroke="#bf6002" stroke-width="4.4" stroke-linecap="round"/>
<circle cx="1257.7" cy="1643.7" r="5.8" fill="none" stroke="#bf6002" stroke-width="3.2"/>
<circle cx="1234" cy="1670" r="5.8" fill="none" stroke="#bf6002" stroke-width="3.2"/>
<circle cx="1280.9" cy="1670" r="5.8" fill="none" stroke="#bf6002" stroke-width="3.2"/>
<text x="1257.17" y="1745" font-size="22.5" text-anchor="middle">(3)</text>
<path d="M1316.59,1755 V1646.5 H1392.49 V1755" fill="none" stroke="#bf6002" stroke-width="4.6" stroke-linejoin="miter"/>
<line x1="1354.54" y1="1646.5" x2="1354.54" y2="1640.4" stroke="#bf6002" stroke-width="4.2" stroke-linecap="butt"/>
<line x1="1333.54" y1="1640.4" x2="1375.54" y2="1640.4" stroke="#bf6002" stroke-width="4.4" stroke-linecap="round"/>
<circle cx="1331.1" cy="1637.8" r="5.8" fill="none" stroke="#bf6002" stroke-width="3.2"/>
<circle cx="1354.3" cy="1641.1" r="5.8" fill="none" stroke="#bf6002" stroke-width="3.2"/>
<circle cx="1377.5" cy="1639.8" r="5.8" fill="none" stroke="#bf6002" stroke-width="3.2"/>
<circle cx="1354.3" cy="1655" r="5.8" fill="none" stroke="#bf6002" stroke-width="3.2"/>
<text x="1354.54" y="1745" font-size="22.5" text-anchor="middle">(4)</text>
<path d="M1413.96,1755 V1562.3 H1489.86 V1755" fill="none" stroke="#bf6002" stroke-width="4.6" stroke-linejoin="miter"/>
<line x1="1451.91" y1="1562.3" x2="1451.91" y2="1551.4" stroke="#bf6002" stroke-width="4.2" stroke-linecap="butt"/>
<line x1="1430.91" y1="1551.4" x2="1472.91" y2="1551.4" stroke="#bf6002" stroke-width="4.4" stroke-linecap="round"/>
<circle cx="1428.5" cy="1546.3" r="5.8" fill="none" stroke="#bf6002" stroke-width="3.2"/>
<circle cx="1452.2" cy="1547.6" r="5.8" fill="none" stroke="#bf6002" stroke-width="3.2"/>
<circle cx="1475.4" cy="1548.1" r="5.8" fill="none" stroke="#bf6002" stroke-width="3.2"/>
<circle cx="1452.2" cy="1567.4" r="5.8" fill="none" stroke="#bf6002" stroke-width="3.2"/>
<circle cx="1452.2" cy="1584.2" r="5.8" fill="none" stroke="#bf6002" stroke-width="3.2"/>
<text x="1451.91" y="1745" font-size="22.5" text-anchor="middle">(5)</text>
<path d="M1511.33,1755 V1620 H1587.23 V1755" fill="none" stroke="#bf6002" stroke-width="4.6" stroke-linejoin="miter"/>
<line x1="1549.28" y1="1620" x2="1549.28" y2="1606.3" stroke="#bf6002" stroke-width="4.2" stroke-linecap="butt"/>
<line x1="1528.28" y1="1606.3" x2="1570.28" y2="1606.3" stroke="#bf6002" stroke-width="4.4" stroke-linecap="round"/>
<circle cx="1525.6" cy="1599.6" r="5.8" fill="none" stroke="#bf6002" stroke-width="3.2"/>
<circle cx="1549.3" cy="1598.6" r="5.8" fill="none" stroke="#bf6002" stroke-width="3.2"/>
<circle cx="1525.6" cy="1637.8" r="5.8" fill="none" stroke="#bf6002" stroke-width="3.2"/>
<circle cx="1572.5" cy="1629.3" r="5.8" fill="none" stroke="#bf6002" stroke-width="3.2"/>
<text x="1549.28" y="1745" font-size="22.5" text-anchor="middle">(4)</text>
<path d="M1608.7,1755 V1641.9 H1684.6 V1755" fill="none" stroke="#bf6002" stroke-width="4.6" stroke-linejoin="miter"/>
<line x1="1646.65" y1="1641.9" x2="1646.65" y2="1628.2" stroke="#bf6002" stroke-width="4.2" stroke-linecap="butt"/>
<line x1="1625.65" y1="1628.2" x2="1667.65" y2="1628.2" stroke="#bf6002" stroke-width="4.4" stroke-linecap="round"/>
<circle cx="1646.8" cy="1605.6" r="5.8" fill="none" stroke="#bf6002" stroke-width="3.2"/>
<circle cx="1622.3" cy="1636" r="5.8" fill="none" stroke="#bf6002" stroke-width="3.2"/>
<circle cx="1670.5" cy="1637.8" r="5.8" fill="none" stroke="#bf6002" stroke-width="3.2"/>
<circle cx="1646.8" cy="1648.6" r="5.8" fill="none" stroke="#bf6002" stroke-width="3.2"/>
<circle cx="1646.8" cy="1663.6" r="5.8" fill="none" stroke="#bf6002" stroke-width="3.2"/>
<text x="1646.65" y="1745" font-size="22.5" text-anchor="middle">(5)</text>
<path d="M1706.07,1755 V1564.8 H1781.97 V1755" fill="none" stroke="#bf6002" stroke-width="4.6" stroke-linejoin="miter"/>
<line x1="1744.02" y1="1564.8" x2="1744.02" y2="1554.5" stroke="#bf6002" stroke-width="4.2" stroke-linecap="butt"/>
<line x1="1723.02" y1="1554.5" x2="1765.02" y2="1554.5" stroke="#bf6002" stroke-width="4.4" stroke-linecap="round"/>
<circle cx="1743.9" cy="1541.1" r="5.8" fill="none" stroke="#bf6002" stroke-width="3.2"/>
<circle cx="1767.1" cy="1554.5" r="5.8" fill="none" stroke="#bf6002" stroke-width="3.2"/>
<circle cx="1743.9" cy="1559.2" r="5.8" fill="none" stroke="#bf6002" stroke-width="3.2"/>
<circle cx="1767.1" cy="1572.1" r="5.8" fill="none" stroke="#bf6002" stroke-width="3.2"/>
<circle cx="1720.2" cy="1580.3" r="5.8" fill="none" stroke="#bf6002" stroke-width="3.2"/>
<text x="1744.02" y="1745" font-size="22.5" text-anchor="middle">(5)</text>
<rect x="1079.3" y="1478" width="746.1" height="277" fill="none" stroke="#000" stroke-width="1.8"/>
<line x1="1067.3" y1="1733.9" x2="1079.3" y2="1733.9" stroke="#000" stroke-width="1.8" stroke-linecap="butt"/>
<text x="1063.8" y="1733.9" dy="0.358em" font-size="29" text-anchor="end">0.0</text>
<line x1="1067.3" y1="1691.24" x2="1079.3" y2="1691.24" stroke="#000" stroke-width="1.8" stroke-linecap="butt"/>
<text x="1063.8" y="1691.24" dy="0.358em" font-size="29" text-anchor="end">0.2</text>
<line x1="1067.3" y1="1648.58" x2="1079.3" y2="1648.58" stroke="#000" stroke-width="1.8" stroke-linecap="butt"/>
<text x="1063.8" y="1648.58" dy="0.358em" font-size="29" text-anchor="end">0.4</text>
<line x1="1067.3" y1="1605.92" x2="1079.3" y2="1605.92" stroke="#000" stroke-width="1.8" stroke-linecap="butt"/>
<text x="1063.8" y="1605.92" dy="0.358em" font-size="29" text-anchor="end">0.6</text>
<line x1="1067.3" y1="1563.26" x2="1079.3" y2="1563.26" stroke="#000" stroke-width="1.8" stroke-linecap="butt"/>
<text x="1063.8" y="1563.26" dy="0.358em" font-size="29" text-anchor="end">0.8</text>
<line x1="1067.3" y1="1520.6" x2="1079.3" y2="1520.6" stroke="#000" stroke-width="1.8" stroke-linecap="butt"/>
<text x="1063.8" y="1520.6" dy="0.358em" font-size="29" text-anchor="end">1.0</text>
<line x1="1067.3" y1="1477.94" x2="1079.3" y2="1477.94" stroke="#000" stroke-width="1.8" stroke-linecap="butt"/>
<text x="1063.8" y="1477.94" dy="0.358em" font-size="29" text-anchor="end">1.2</text>
<line x1="1159.8" y1="1755" x2="1159.8" y2="1767" stroke="#000" stroke-width="1.8" stroke-linecap="butt"/>
<text transform="translate(1169.6,1770.5) rotate(-90)" font-size="28.3" text-anchor="end">PSFL2763</text>
<line x1="1257.17" y1="1755" x2="1257.17" y2="1767" stroke="#000" stroke-width="1.8" stroke-linecap="butt"/>
<text transform="translate(1266.97,1770.5) rotate(-90)" font-size="28.3" text-anchor="end">PSFL2775</text>
<line x1="1354.54" y1="1755" x2="1354.54" y2="1767" stroke="#000" stroke-width="1.8" stroke-linecap="butt"/>
<text transform="translate(1364.34,1770.5) rotate(-90)" font-size="28.3" text-anchor="end">PSFL2779</text>
<line x1="1451.91" y1="1755" x2="1451.91" y2="1767" stroke="#000" stroke-width="1.8" stroke-linecap="butt"/>
<text transform="translate(1461.71,1770.5) rotate(-90)" font-size="28.3" text-anchor="end">PSFL2780</text>
<line x1="1549.28" y1="1755" x2="1549.28" y2="1767" stroke="#000" stroke-width="1.8" stroke-linecap="butt"/>
<text transform="translate(1559.08,1770.5) rotate(-90)" font-size="28.3" text-anchor="end">PSFL2783</text>
<line x1="1646.65" y1="1755" x2="1646.65" y2="1767" stroke="#000" stroke-width="1.8" stroke-linecap="butt"/>
<text transform="translate(1656.45,1770.5) rotate(-90)" font-size="28.3" text-anchor="end">PSFL2784</text>
<line x1="1744.02" y1="1755" x2="1744.02" y2="1767" stroke="#000" stroke-width="1.8" stroke-linecap="butt"/>
<text transform="translate(1753.82,1770.5) rotate(-90)" font-size="28.3" text-anchor="end">PSFL2787</text>
<text transform="translate(1010,1612) rotate(-90)" font-size="27.4" text-anchor="middle">Inhibition rate</text>
</g>
<text x="-1.3" y="35.3" font-size="42">a</text>
<text x="0" y="619" font-size="42">b</text>
<text x="-1.3" y="1465.5" font-size="42">c</text>
<text x="984.5" y="34.7" font-size="42">d</text>
<text x="984.5" y="619" font-size="42">e</text>
<text x="984.2" y="1465" font-size="42">f</text>
<defs><linearGradient id="ag" x1="0" y1="84" x2="0" y2="1906" gradientUnits="userSpaceOnUse"><stop offset="0" stop-color="#ffffff"/><stop offset="1" stop-color="#72ac47"/></linearGradient></defs>
<path d="M1906.2,84.4 H1955 V1856 H1980 L1930.5,1905 L1881,1856 H1906.2 Z" fill="url(#ag)" stroke="#0c1446" stroke-width="2" stroke-linejoin="miter"/>
<line x1="1906.2" y1="663.1" x2="1957.4" y2="663.1" stroke="#566a70" stroke-width="2.6" stroke-linecap="butt"/>
<line x1="1906.2" y1="1471.8" x2="1957.4" y2="1471.8" stroke="#566a70" stroke-width="2.6" stroke-linecap="butt"/>
<text transform="translate(1938.6,337.1) rotate(-90)" font-size="28" text-anchor="middle" fill="#000">Virtual Screening</text>
<text transform="translate(1937.8,987.7) rotate(-90)" font-size="28" text-anchor="middle" fill="#000">Preliminary Verification</text>
<text transform="translate(1937.3,1640.0) rotate(-90)" font-size="28" text-anchor="middle" fill="#fff">Duplicate Verification</text>
</svg>
</body></html>
